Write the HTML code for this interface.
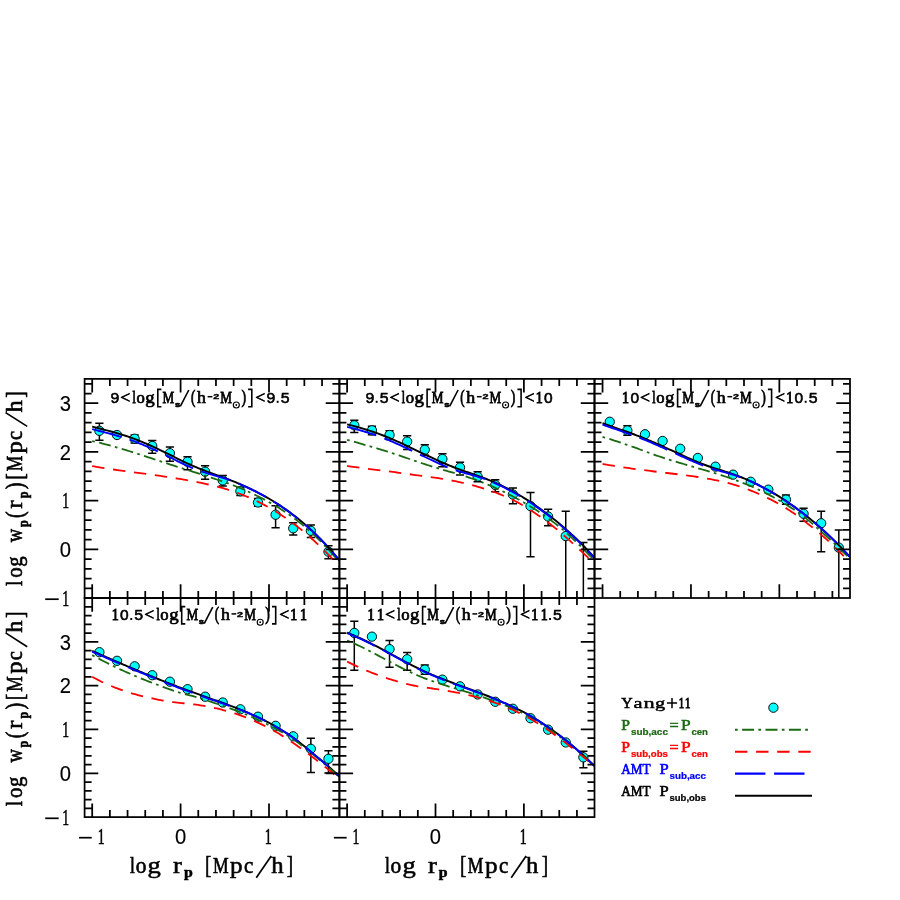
<!DOCTYPE html>
<html><head><meta charset="utf-8"><title>wp(rp) stellar mass bins</title>
<style>html,body{margin:0;padding:0;background:#fff;}body{width:900px;height:900px;overflow:hidden;font-family:"Liberation Sans",sans-serif;}svg{display:block;will-change:transform;}</style></head>
<body>
<svg width="900" height="900" viewBox="0 0 900 900">
<rect width="900" height="900" fill="#fff"/>
<clipPath id="c0"><rect x="84.6" y="378.9" width="254.8" height="219.1"/></clipPath>
<g clip-path="url(#c0)">
<path d="M99.4 423.3V440.3M95.3 423.3h8.2M95.3 440.3h8.2" stroke="#000" stroke-width="1.5" fill="none"/>
<circle cx="99.4" cy="430.8" r="4.65" fill="#00ffff" stroke="#000" stroke-width="0.95"/>
<circle cx="117.02" cy="435" r="4.65" fill="#00ffff" stroke="#000" stroke-width="0.95"/>
<path d="M134.64 435V443M130.54 435h8.2M130.54 443h8.2" stroke="#000" stroke-width="1.5" fill="none"/>
<circle cx="134.64" cy="438.7" r="4.65" fill="#00ffff" stroke="#000" stroke-width="0.95"/>
<path d="M152.26 440.5V453.3M148.16 440.5h8.2M148.16 453.3h8.2" stroke="#000" stroke-width="1.5" fill="none"/>
<circle cx="152.26" cy="446" r="4.65" fill="#00ffff" stroke="#000" stroke-width="0.95"/>
<path d="M169.88 447V461.2M165.78 447h8.2M165.78 461.2h8.2" stroke="#000" stroke-width="1.5" fill="none"/>
<circle cx="169.88" cy="453.2" r="4.65" fill="#00ffff" stroke="#000" stroke-width="0.95"/>
<path d="M187.5 456.7V469.7M183.4 456.7h8.2M183.4 469.7h8.2" stroke="#000" stroke-width="1.5" fill="none"/>
<circle cx="187.5" cy="461.7" r="4.65" fill="#00ffff" stroke="#000" stroke-width="0.95"/>
<path d="M205.12 465.8V479.3M201.02 465.8h8.2M201.02 479.3h8.2" stroke="#000" stroke-width="1.5" fill="none"/>
<circle cx="205.12" cy="471.7" r="4.65" fill="#00ffff" stroke="#000" stroke-width="0.95"/>
<path d="M222.74 475.6V486M218.64 475.6h8.2M218.64 486h8.2" stroke="#000" stroke-width="1.5" fill="none"/>
<circle cx="222.74" cy="480.4" r="4.65" fill="#00ffff" stroke="#000" stroke-width="0.95"/>
<path d="M240.36 487.3V495.5M236.26 487.3h8.2M236.26 495.5h8.2" stroke="#000" stroke-width="1.5" fill="none"/>
<circle cx="240.36" cy="491.3" r="4.65" fill="#00ffff" stroke="#000" stroke-width="0.95"/>
<path d="M257.98 498.5V506.3M253.88 498.5h8.2M253.88 506.3h8.2" stroke="#000" stroke-width="1.5" fill="none"/>
<circle cx="257.98" cy="502.5" r="4.65" fill="#00ffff" stroke="#000" stroke-width="0.95"/>
<path d="M275.6 505.8V527.8M271.5 505.8h8.2M271.5 527.8h8.2" stroke="#000" stroke-width="1.5" fill="none"/>
<circle cx="275.6" cy="514.7" r="4.65" fill="#00ffff" stroke="#000" stroke-width="0.95"/>
<path d="M293.22 522.8V535M289.12 522.8h8.2M289.12 535h8.2" stroke="#000" stroke-width="1.5" fill="none"/>
<circle cx="293.22" cy="528.3" r="4.65" fill="#00ffff" stroke="#000" stroke-width="0.95"/>
<path d="M310.84 525V537.5M306.74 525h8.2M306.74 537.5h8.2" stroke="#000" stroke-width="1.5" fill="none"/>
<circle cx="310.84" cy="530.8" r="4.65" fill="#00ffff" stroke="#000" stroke-width="0.95"/>
<path d="M328.46 545.8V558.7M324.36 545.8h8.2M324.36 558.7h8.2" stroke="#000" stroke-width="1.5" fill="none"/>
<circle cx="328.46" cy="551.7" r="4.65" fill="#00ffff" stroke="#000" stroke-width="0.95"/>
<path d="M92.2 426.59L94.28 427.14L96.35 427.68L98.43 428.21L100.51 428.75L102.59 429.29L104.66 429.82L106.74 430.37L108.82 430.92L110.9 431.48L112.97 432.04L115.05 432.62L117.13 433.22L119.21 433.83L121.28 434.45L123.36 435.1L125.44 435.76L127.51 436.45L129.59 437.16L131.67 437.89L133.75 438.65L135.82 439.43L137.9 440.24L139.98 441.06L142.06 441.91L144.13 442.78L146.21 443.67L148.29 444.57L150.36 445.5L152.44 446.44L154.52 447.4L156.6 448.37L158.67 449.35L160.75 450.34L162.83 451.35L164.91 452.36L166.98 453.39L169.06 454.41L171.14 455.44L173.22 456.47L175.29 457.5L177.37 458.53L179.45 459.55L181.52 460.56L183.6 461.55L185.68 462.54L187.76 463.51L189.83 464.46L191.91 465.39L193.99 466.3L196.07 467.19L198.14 468.06L200.22 468.9L202.3 469.72L204.37 470.53L206.45 471.32L208.53 472.1L210.61 472.87L212.68 473.63L214.76 474.39L216.84 475.14L218.92 475.89L220.99 476.64L223.07 477.4L225.15 478.17L227.23 478.95L229.3 479.74L231.38 480.54L233.46 481.37L235.53 482.21L237.61 483.07L239.69 483.95L241.77 484.85L243.84 485.77L245.92 486.71L248 487.67L250.08 488.65L252.15 489.65L254.23 490.67L256.31 491.71L258.38 492.78L260.46 493.87L262.54 494.99L264.62 496.13L266.69 497.3L268.77 498.5L270.85 499.73L272.93 500.99L275 502.28L277.08 503.59L279.16 504.94L281.24 506.31L283.31 507.72L285.39 509.17L287.47 510.64L289.54 512.15L291.62 513.69L293.7 515.27L295.78 516.88L297.85 518.53L299.93 520.21L302.01 521.93L304.09 523.68L306.16 525.48L308.24 527.31L310.32 529.19L312.39 531.1L314.47 533.06L316.55 535.06L318.63 537.11L320.7 539.21L322.78 541.35L324.86 543.55L326.94 545.79L329.01 548.09L331.09 550.44L333.17 552.83L335.25 555.28L337.32 557.78L339.4 560.33" stroke="#000" stroke-width="1.95" fill="none"/>
<path d="M92.2 441.08L94.28 441.51L96.35 441.98L98.43 442.47L100.51 442.99L102.59 443.52L104.66 444.07L106.74 444.64L108.82 445.21L110.9 445.78L112.97 446.36L115.05 446.94L117.13 447.53L119.21 448.13L121.28 448.73L123.36 449.34L125.44 449.97L127.51 450.6L129.59 451.24L131.67 451.89L133.75 452.54L135.82 453.21L137.9 453.88L139.98 454.55L142.06 455.23L144.13 455.91L146.21 456.59L148.29 457.28L150.36 457.97L152.44 458.66L154.52 459.35L156.6 460.04L158.67 460.72L160.75 461.41L162.83 462.09L164.91 462.77L166.98 463.44L169.06 464.11L171.14 464.78L173.22 465.44L175.29 466.11L177.37 466.77L179.45 467.43L181.52 468.09L183.6 468.74L185.68 469.4L187.76 470.06L189.83 470.72L191.91 471.38L193.99 472.04L196.07 472.7L198.14 473.37L200.22 474.03L202.3 474.7L204.37 475.38L206.45 476.06L208.53 476.74L210.61 477.42L212.68 478.11L214.76 478.81L216.84 479.51L218.92 480.22L220.99 480.94L223.07 481.66L225.15 482.4L227.23 483.14L229.3 483.9L231.38 484.67L233.46 485.45L235.53 486.26L237.61 487.08L239.69 487.92L241.77 488.79L243.84 489.68L245.92 490.6L248 491.54L250.08 492.5L252.15 493.48L254.23 494.48L256.31 495.5L258.38 496.53L260.46 497.58L262.54 498.65L264.62 499.74L266.69 500.85L268.77 501.99L270.85 503.15L272.93 504.33L275 505.55L277.08 506.8L279.16 508.08L281.24 509.39L283.31 510.73L285.39 512.11L287.47 513.52L289.54 514.97L291.62 516.45L293.7 517.97L295.78 519.53L297.85 521.12L299.93 522.76L302.01 524.42L304.09 526.13L306.16 527.87L308.24 529.66L310.32 531.49L312.39 533.37L314.47 535.29L316.55 537.25L318.63 539.27L320.7 541.33L322.78 543.45L324.86 545.61L326.94 547.83L329.01 550.09L331.09 552.42L333.17 554.79L335.25 557.23L337.32 559.72L339.4 562.27" stroke="#1a6a12" stroke-width="1.8" fill="none" stroke-dasharray="2.7 4.4 12 4.3"/>
<path d="M92.2 466.12L94.28 466.48L96.35 466.84L98.43 467.19L100.51 467.53L102.59 467.87L104.66 468.2L106.74 468.52L108.82 468.83L110.9 469.14L112.97 469.45L115.05 469.75L117.13 470.05L119.21 470.34L121.28 470.63L123.36 470.91L125.44 471.2L127.51 471.48L129.59 471.75L131.67 472.03L133.75 472.31L135.82 472.58L137.9 472.86L139.98 473.13L142.06 473.41L144.13 473.68L146.21 473.96L148.29 474.24L150.36 474.52L152.44 474.8L154.52 475.09L156.6 475.38L158.67 475.67L160.75 475.97L162.83 476.27L164.91 476.58L166.98 476.89L169.06 477.21L171.14 477.53L173.22 477.86L175.29 478.19L177.37 478.53L179.45 478.87L181.52 479.22L183.6 479.58L185.68 479.94L187.76 480.31L189.83 480.68L191.91 481.07L193.99 481.46L196.07 481.87L198.14 482.28L200.22 482.7L202.3 483.14L204.37 483.58L206.45 484.03L208.53 484.5L210.61 484.98L212.68 485.47L214.76 485.98L216.84 486.51L218.92 487.06L220.99 487.63L223.07 488.21L225.15 488.83L227.23 489.46L229.3 490.12L231.38 490.79L233.46 491.49L235.53 492.21L237.61 492.96L239.69 493.73L241.77 494.53L243.84 495.35L245.92 496.21L248 497.09L250.08 498L252.15 498.93L254.23 499.9L256.31 500.89L258.38 501.91L260.46 502.95L262.54 504.03L264.62 505.13L266.69 506.26L268.77 507.42L270.85 508.6L272.93 509.82L275 511.07L277.08 512.35L279.16 513.66L281.24 515L283.31 516.38L285.39 517.79L287.47 519.23L289.54 520.71L291.62 522.22L293.7 523.76L295.78 525.34L297.85 526.96L299.93 528.61L302.01 530.3L304.09 532.02L306.16 533.78L308.24 535.58L310.32 537.4L312.39 539.26L314.47 541.14L316.55 543.06L318.63 545.01L320.7 547L322.78 549.02L324.86 551.07L326.94 553.17L329.01 555.3L331.09 557.47L333.17 559.68L335.25 561.94L337.32 564.24L339.4 566.6" stroke="#ff0000" stroke-width="1.8" fill="none" stroke-dasharray="12.4 8.7"/>
<path d="M92.2 429.09L94.28 429.64L96.35 430.18L98.43 430.71L100.51 431.25L102.59 431.79L104.66 432.32L106.74 432.87L108.82 433.42L110.9 433.98L112.97 434.54L115.05 435.12L117.13 435.72L119.21 436.33L121.28 436.95L123.36 437.6L125.44 438.26L127.51 438.95L129.59 439.66L131.67 440.39L133.75 441.15L135.82 441.93L137.9 442.74L139.98 443.56L142.06 444.41L144.13 445.28L146.21 446.17L148.29 447.07L150.36 448L152.44 448.94L154.52 449.9L156.6 450.87L158.67 451.85L160.75 452.84L162.83 453.85L164.91 454.86L166.98 455.89L169.06 456.91L171.14 457.94L173.22 458.97L175.29 460L177.37 461.03L179.45 462.05L181.52 463.06L183.6 464.05L185.68 465.04L187.76 466.01L189.83 466.96L191.91 467.89L193.99 468.8L196.07 469.69L198.14 470.45L200.22 471.13L202.3 471.8L204.37 472.45L206.45 473.09L208.53 473.71L210.61 474.33L212.68 474.93L214.76 475.53L216.84 476.13L218.92 476.72L220.99 477.32L223.07 477.92L225.15 478.53L227.23 479.15L229.3 479.94L231.38 480.74L233.46 481.57L235.53 482.41L237.61 483.27L239.69 484.15L241.77 485.05L243.84 485.97L245.92 486.91L248 487.87L250.08 488.85L252.15 489.85L254.23 490.87L256.31 491.91L258.38 492.98L260.46 494.07L262.54 495.19L264.62 496.33L266.69 497.5L268.77 498.7L270.85 499.93L272.93 501.19L275 502.48L277.08 503.79L279.16 505.14L281.24 506.51L283.31 507.92L285.39 509.37L287.47 510.84L289.54 512.35L291.62 513.89L293.7 515.47L295.78 517.08L297.85 518.73L299.93 520.41L302.01 522.13L304.09 523.88L306.16 525.68L308.24 527.51L310.32 529.39L312.39 531.3L314.47 533.26L316.55 535.26L318.63 537.31L320.7 539.41L322.78 541.55L324.86 543.75L326.94 545.99L329.01 548.29L331.09 550.64L333.17 553.03L335.25 555.48L337.32 557.98L339.4 560.53" stroke="#0000ff" stroke-width="1.9" fill="none" stroke-dasharray="30.4 8.7"/>
</g>
<clipPath id="c1"><rect x="339.4" y="378.9" width="255.1" height="219.1"/></clipPath>
<g clip-path="url(#c1)">
<path d="M354.3 420.3V432.5M350.2 420.3h8.2M350.2 432.5h8.2" stroke="#000" stroke-width="1.5" fill="none"/>
<circle cx="354.3" cy="425.3" r="4.65" fill="#00ffff" stroke="#000" stroke-width="0.95"/>
<path d="M371.92 426.3V434.7M367.82 426.3h8.2M367.82 434.7h8.2" stroke="#000" stroke-width="1.5" fill="none"/>
<circle cx="371.92" cy="430.3" r="4.65" fill="#00ffff" stroke="#000" stroke-width="0.95"/>
<path d="M389.54 430.8V439.5M385.44 430.8h8.2M385.44 439.5h8.2" stroke="#000" stroke-width="1.5" fill="none"/>
<circle cx="389.54" cy="435" r="4.65" fill="#00ffff" stroke="#000" stroke-width="0.95"/>
<path d="M407.16 435.8V449.5M403.06 435.8h8.2M403.06 449.5h8.2" stroke="#000" stroke-width="1.5" fill="none"/>
<circle cx="407.16" cy="441.6" r="4.65" fill="#00ffff" stroke="#000" stroke-width="0.95"/>
<path d="M424.78 444.7V455.3M420.68 444.7h8.2M420.68 455.3h8.2" stroke="#000" stroke-width="1.5" fill="none"/>
<circle cx="424.78" cy="449.8" r="4.65" fill="#00ffff" stroke="#000" stroke-width="0.95"/>
<path d="M442.4 453.7V466.7M438.3 453.7h8.2M438.3 466.7h8.2" stroke="#000" stroke-width="1.5" fill="none"/>
<circle cx="442.4" cy="459" r="4.65" fill="#00ffff" stroke="#000" stroke-width="0.95"/>
<path d="M460.02 462.2V475M455.92 462.2h8.2M455.92 475h8.2" stroke="#000" stroke-width="1.5" fill="none"/>
<circle cx="460.02" cy="467.5" r="4.65" fill="#00ffff" stroke="#000" stroke-width="0.95"/>
<path d="M477.64 471.7V481.7M473.54 471.7h8.2M473.54 481.7h8.2" stroke="#000" stroke-width="1.5" fill="none"/>
<circle cx="477.64" cy="476.6" r="4.65" fill="#00ffff" stroke="#000" stroke-width="0.95"/>
<path d="M495.26 479.7V491.7M491.16 479.7h8.2M491.16 491.7h8.2" stroke="#000" stroke-width="1.5" fill="none"/>
<circle cx="495.26" cy="485" r="4.65" fill="#00ffff" stroke="#000" stroke-width="0.95"/>
<path d="M512.88 488V503.7M508.78 488h8.2M508.78 503.7h8.2" stroke="#000" stroke-width="1.5" fill="none"/>
<circle cx="512.88" cy="494.5" r="4.65" fill="#00ffff" stroke="#000" stroke-width="0.95"/>
<path d="M530.5 492.5V556.7M526.4 492.5h8.2M526.4 556.7h8.2" stroke="#000" stroke-width="1.5" fill="none"/>
<circle cx="530.5" cy="506.1" r="4.65" fill="#00ffff" stroke="#000" stroke-width="0.95"/>
<path d="M548.12 509.2V525.8M544.02 509.2h8.2M544.02 525.8h8.2" stroke="#000" stroke-width="1.5" fill="none"/>
<circle cx="548.12" cy="516.5" r="4.65" fill="#00ffff" stroke="#000" stroke-width="0.95"/>
<path d="M565.74 511.3V598M561.64 511.3h8.2" stroke="#000" stroke-width="1.5" fill="none"/>
<circle cx="565.74" cy="536.1" r="4.65" fill="#00ffff" stroke="#000" stroke-width="0.95"/>
<path d="M583.36 542.5V598M579.26 542.5h8.2" stroke="#000" stroke-width="1.5" fill="none"/>
<path d="M347.1 424.32L349.18 424.85L351.26 425.38L353.34 425.93L355.42 426.49L357.49 427.06L359.57 427.65L361.65 428.25L363.73 428.87L365.81 429.51L367.89 430.16L369.97 430.83L372.05 431.51L374.13 432.22L376.21 432.94L378.28 433.68L380.36 434.44L382.44 435.22L384.52 436.03L386.6 436.85L388.68 437.7L390.76 438.57L392.84 439.46L394.92 440.37L397 441.29L399.07 442.23L401.15 443.18L403.23 444.14L405.31 445.11L407.39 446.08L409.47 447.06L411.55 448.05L413.63 449.04L415.71 450.03L417.79 451.03L419.86 452.02L421.94 453.02L424.02 454.01L426.1 455.01L428.18 456L430.26 456.99L432.34 457.97L434.42 458.95L436.5 459.91L438.58 460.86L440.65 461.8L442.73 462.72L444.81 463.62L446.89 464.51L448.97 465.37L451.05 466.21L453.13 467.02L455.21 467.82L457.29 468.59L459.37 469.35L461.44 470.1L463.52 470.84L465.6 471.57L467.68 472.29L469.76 473.01L471.84 473.73L473.92 474.46L476 475.19L478.08 475.92L480.16 476.67L482.23 477.42L484.31 478.2L486.39 478.99L488.47 479.81L490.55 480.65L492.63 481.52L494.71 482.41L496.79 483.33L498.87 484.28L500.95 485.25L503.02 486.26L505.1 487.29L507.18 488.35L509.26 489.44L511.34 490.55L513.42 491.69L515.5 492.87L517.58 494.06L519.66 495.29L521.74 496.53L523.81 497.81L525.89 499.11L527.97 500.44L530.05 501.79L532.13 503.17L534.21 504.58L536.29 506.01L538.37 507.47L540.45 508.96L542.53 510.47L544.6 512.01L546.68 513.58L548.76 515.17L550.84 516.78L552.92 518.42L555 520.08L557.08 521.77L559.16 523.48L561.24 525.22L563.32 527L565.39 528.79L567.47 530.62L569.55 532.48L571.63 534.37L573.71 536.3L575.79 538.25L577.87 540.25L579.95 542.29L582.03 544.37L584.11 546.49L586.18 548.66L588.26 550.87L590.34 553.11L592.42 555.38L594.5 557.67" stroke="#000" stroke-width="1.95" fill="none"/>
<path d="M347.1 439.77L349.18 440.35L351.26 440.94L353.34 441.53L355.42 442.13L357.49 442.72L359.57 443.32L361.65 443.93L363.73 444.53L365.81 445.14L367.89 445.74L369.97 446.35L372.05 446.96L374.13 447.57L376.21 448.18L378.28 448.79L380.36 449.41L382.44 450.03L384.52 450.66L386.6 451.3L388.68 451.95L390.76 452.61L392.84 453.28L394.92 453.97L397 454.67L399.07 455.38L401.15 456.1L403.23 456.82L405.31 457.54L407.39 458.26L409.47 458.98L411.55 459.7L413.63 460.42L415.71 461.13L417.79 461.84L419.86 462.54L421.94 463.24L424.02 463.92L426.1 464.59L428.18 465.26L430.26 465.91L432.34 466.56L434.42 467.2L436.5 467.84L438.58 468.47L440.65 469.1L442.73 469.73L444.81 470.34L446.89 470.95L448.97 471.56L451.05 472.15L453.13 472.74L455.21 473.34L457.29 473.94L459.37 474.54L461.44 475.16L463.52 475.79L465.6 476.44L467.68 477.1L469.76 477.78L471.84 478.48L473.92 479.2L476 479.95L478.08 480.72L480.16 481.51L482.23 482.33L484.31 483.16L486.39 484.02L488.47 484.89L490.55 485.78L492.63 486.69L494.71 487.62L496.79 488.57L498.87 489.53L500.95 490.51L503.02 491.5L505.1 492.51L507.18 493.53L509.26 494.57L511.34 495.63L513.42 496.71L515.5 497.81L517.58 498.92L519.66 500.07L521.74 501.23L523.81 502.42L525.89 503.64L527.97 504.88L530.05 506.15L532.13 507.45L534.21 508.77L536.29 510.11L538.37 511.48L540.45 512.88L542.53 514.3L544.6 515.75L546.68 517.22L548.76 518.72L550.84 520.24L552.92 521.78L555 523.36L557.08 524.98L559.16 526.63L561.24 528.33L563.32 530.08L565.39 531.88L567.47 533.72L569.55 535.62L571.63 537.55L573.71 539.51L575.79 541.51L577.87 543.54L579.95 545.59L582.03 547.66L584.11 549.76L586.18 551.87L588.26 554L590.34 556.13L592.42 558.27L594.5 560.43" stroke="#1a6a12" stroke-width="1.8" fill="none" stroke-dasharray="2.7 4.4 12 4.3"/>
<path d="M347.1 465.97L349.18 466.3L351.26 466.61L353.34 466.91L355.42 467.19L357.49 467.47L359.57 467.74L361.65 468L363.73 468.26L365.81 468.51L367.89 468.77L369.97 469.02L372.05 469.27L374.13 469.53L376.21 469.79L378.28 470.06L380.36 470.33L382.44 470.6L384.52 470.86L386.6 471.13L388.68 471.4L390.76 471.67L392.84 471.95L394.92 472.22L397 472.5L399.07 472.78L401.15 473.06L403.23 473.35L405.31 473.64L407.39 473.92L409.47 474.21L411.55 474.49L413.63 474.77L415.71 475.05L417.79 475.33L419.86 475.6L421.94 475.87L424.02 476.15L426.1 476.42L428.18 476.7L430.26 476.99L432.34 477.28L434.42 477.58L436.5 477.89L438.58 478.21L440.65 478.54L442.73 478.88L444.81 479.24L446.89 479.61L448.97 479.99L451.05 480.39L453.13 480.79L455.21 481.21L457.29 481.64L459.37 482.08L461.44 482.53L463.52 482.99L465.6 483.47L467.68 483.98L469.76 484.5L471.84 485.05L473.92 485.62L476 486.2L478.08 486.8L480.16 487.42L482.23 488.04L484.31 488.69L486.39 489.35L488.47 490.03L490.55 490.74L492.63 491.47L494.71 492.23L496.79 493.01L498.87 493.81L500.95 494.64L503.02 495.5L505.1 496.38L507.18 497.29L509.26 498.23L511.34 499.21L513.42 500.23L515.5 501.29L517.58 502.4L519.66 503.55L521.74 504.74L523.81 505.98L525.89 507.24L527.97 508.53L530.05 509.85L532.13 511.2L534.21 512.57L536.29 513.97L538.37 515.4L540.45 516.85L542.53 518.33L544.6 519.83L546.68 521.36L548.76 522.93L550.84 524.53L552.92 526.18L555 527.86L557.08 529.57L559.16 531.32L561.24 533.1L563.32 534.91L565.39 536.74L567.47 538.58L569.55 540.45L571.63 542.34L573.71 544.25L575.79 546.16L577.87 548.09L579.95 550.02L582.03 551.95L584.11 553.88L586.18 555.79L588.26 557.7L590.34 559.59L592.42 561.47L594.5 563.34" stroke="#ff0000" stroke-width="1.8" fill="none" stroke-dasharray="12.4 8.7"/>
<path d="M347.1 426.82L349.18 427.35L351.26 427.88L353.34 428.43L355.42 428.99L357.49 429.56L359.57 430.15L361.65 430.75L363.73 431.37L365.81 432.01L367.89 432.66L369.97 433.33L372.05 434.01L374.13 434.72L376.21 435.44L378.28 436.18L380.36 436.94L382.44 437.72L384.52 438.53L386.6 439.35L388.68 440.2L390.76 441.07L392.84 441.96L394.92 442.87L397 443.79L399.07 444.73L401.15 445.68L403.23 446.64L405.31 447.61L407.39 448.58L409.47 449.56L411.55 450.55L413.63 451.54L415.71 452.53L417.79 453.53L419.86 454.52L421.94 455.52L424.02 456.51L426.1 457.51L428.18 458.5L430.26 459.49L432.34 460.47L434.42 461.45L436.5 462.41L438.58 463.36L440.65 464.3L442.73 465.22L444.81 466.12L446.89 467.01L448.97 467.87L451.05 468.71L453.13 469.52L455.21 470.24L457.29 470.86L459.37 471.47L461.44 472.06L463.52 472.65L465.6 473.23L467.68 473.81L469.76 474.4L471.84 474.99L473.92 475.6L476 476.21L478.08 476.83L480.16 477.47L482.23 478.12L484.31 478.78L486.39 479.58L488.47 480.43L490.55 481.3L492.63 482.18L494.71 483.09L496.79 484.01L498.87 484.96L500.95 485.94L503.02 486.94L505.1 487.97L507.18 489.03L509.26 490.12L511.34 491.23L513.42 492.37L515.5 493.54L517.58 494.74L519.66 495.96L521.74 497.2L523.81 498.48L525.89 499.78L527.97 501.1L530.05 502.45L532.13 503.83L534.21 505.23L536.29 506.66L538.37 508.12L540.45 509.61L542.53 511.12L544.6 512.66L546.68 514.22L548.76 515.81L550.84 517.42L552.92 519.06L555 520.72L557.08 522.4L559.16 524.12L561.24 525.86L563.32 527.62L565.39 529.42L567.47 531.25L569.55 533.11L571.63 534.99L573.71 536.92L575.79 538.87L577.87 540.87L579.95 542.9L582.03 544.98L584.11 547.1L586.18 549.27L588.26 551.48L590.34 553.72L592.42 555.98L594.5 558.28" stroke="#0000ff" stroke-width="1.9" fill="none" stroke-dasharray="30.4 8.7"/>
</g>
<clipPath id="c2"><rect x="594.5" y="378.9" width="255.5" height="219.1"/></clipPath>
<g clip-path="url(#c2)">
<circle cx="609.75" cy="421.75" r="4.65" fill="#00ffff" stroke="#000" stroke-width="0.95"/>
<path d="M627.37 425.8V435.3M623.27 425.8h8.2M623.27 435.3h8.2" stroke="#000" stroke-width="1.5" fill="none"/>
<circle cx="627.37" cy="430.45" r="4.65" fill="#00ffff" stroke="#000" stroke-width="0.95"/>
<circle cx="644.99" cy="434.25" r="4.65" fill="#00ffff" stroke="#000" stroke-width="0.95"/>
<circle cx="662.61" cy="440.95" r="4.65" fill="#00ffff" stroke="#000" stroke-width="0.95"/>
<circle cx="680.23" cy="448.75" r="4.65" fill="#00ffff" stroke="#000" stroke-width="0.95"/>
<circle cx="697.85" cy="457.95" r="4.65" fill="#00ffff" stroke="#000" stroke-width="0.95"/>
<circle cx="715.47" cy="466.65" r="4.65" fill="#00ffff" stroke="#000" stroke-width="0.95"/>
<circle cx="733.09" cy="474.65" r="4.65" fill="#00ffff" stroke="#000" stroke-width="0.95"/>
<circle cx="750.71" cy="481.75" r="4.65" fill="#00ffff" stroke="#000" stroke-width="0.95"/>
<circle cx="768.33" cy="489.65" r="4.65" fill="#00ffff" stroke="#000" stroke-width="0.95"/>
<path d="M785.95 495V504.2M781.85 495h8.2M781.85 504.2h8.2" stroke="#000" stroke-width="1.5" fill="none"/>
<circle cx="785.95" cy="499.65" r="4.65" fill="#00ffff" stroke="#000" stroke-width="0.95"/>
<path d="M803.57 508.3V521.2M799.47 508.3h8.2M799.47 521.2h8.2" stroke="#000" stroke-width="1.5" fill="none"/>
<circle cx="803.57" cy="513.75" r="4.65" fill="#00ffff" stroke="#000" stroke-width="0.95"/>
<path d="M821.19 511.3V551.7M817.09 511.3h8.2M817.09 551.7h8.2" stroke="#000" stroke-width="1.5" fill="none"/>
<circle cx="821.19" cy="523.25" r="4.65" fill="#00ffff" stroke="#000" stroke-width="0.95"/>
<path d="M838.81 530V598M834.71 530h8.2" stroke="#000" stroke-width="1.5" fill="none"/>
<circle cx="838.81" cy="547.65" r="4.65" fill="#00ffff" stroke="#000" stroke-width="0.95"/>
<path d="M602.55 423.22L604.63 423.99L606.71 424.75L608.79 425.49L610.87 426.22L612.95 426.95L615.03 427.67L617.11 428.39L619.19 429.1L621.26 429.82L623.34 430.54L625.42 431.27L627.5 432L629.58 432.74L631.66 433.5L633.74 434.26L635.82 435.04L637.9 435.84L639.98 436.64L642.06 437.47L644.14 438.31L646.22 439.16L648.3 440.03L650.38 440.91L652.46 441.81L654.54 442.72L656.61 443.63L658.69 444.56L660.77 445.49L662.85 446.43L664.93 447.38L667.01 448.32L669.09 449.27L671.17 450.22L673.25 451.16L675.33 452.11L677.41 453.06L679.49 454.01L681.57 454.97L683.65 455.92L685.73 456.87L687.81 457.81L689.89 458.74L691.96 459.66L694.04 460.57L696.12 461.45L698.2 462.32L700.28 463.16L702.36 463.98L704.44 464.78L706.52 465.54L708.6 466.28L710.68 466.99L712.76 467.67L714.84 468.34L716.92 469L719 469.65L721.08 470.3L723.16 470.95L725.24 471.61L727.31 472.29L729.39 472.97L731.47 473.68L733.55 474.4L735.63 475.14L737.71 475.9L739.79 476.69L741.87 477.51L743.95 478.35L746.03 479.22L748.11 480.12L750.19 481.04L752.27 482L754.35 482.97L756.43 483.98L758.51 485L760.59 486.06L762.66 487.13L764.74 488.24L766.82 489.36L768.9 490.52L770.98 491.69L773.06 492.9L775.14 494.13L777.22 495.39L779.3 496.67L781.38 497.98L783.46 499.32L785.54 500.68L787.62 502.07L789.7 503.49L791.78 504.94L793.86 506.41L795.94 507.91L798.01 509.44L800.09 510.99L802.17 512.57L804.25 514.18L806.33 515.82L808.41 517.48L810.49 519.16L812.57 520.88L814.65 522.62L816.73 524.39L818.81 526.19L820.89 528.02L822.97 529.88L825.05 531.78L827.13 533.71L829.21 535.68L831.29 537.68L833.36 539.72L835.44 541.78L837.52 543.88L839.6 546L841.68 548.14L843.76 550.31L845.84 552.5L847.92 554.71L850 556.93" stroke="#000" stroke-width="1.95" fill="none"/>
<path d="M602.55 436.9L604.63 437.52L606.71 438.15L608.79 438.79L610.87 439.45L612.95 440.11L615.03 440.78L617.11 441.47L619.19 442.16L621.26 442.86L623.34 443.57L625.42 444.29L627.5 445.01L629.58 445.74L631.66 446.48L633.74 447.22L635.82 447.97L637.9 448.72L639.98 449.48L642.06 450.24L644.14 451L646.22 451.76L648.3 452.53L650.38 453.29L652.46 454.04L654.54 454.79L656.61 455.53L658.69 456.26L660.77 456.97L662.85 457.67L664.93 458.35L667.01 459.02L669.09 459.67L671.17 460.31L673.25 460.94L675.33 461.56L677.41 462.17L679.49 462.78L681.57 463.39L683.65 464L685.73 464.62L687.81 465.23L689.89 465.84L691.96 466.45L694.04 467.06L696.12 467.67L698.2 468.28L700.28 468.89L702.36 469.5L704.44 470.11L706.52 470.73L708.6 471.35L710.68 471.98L712.76 472.6L714.84 473.23L716.92 473.87L719 474.51L721.08 475.16L723.16 475.82L725.24 476.5L727.31 477.19L729.39 477.91L731.47 478.64L733.55 479.38L735.63 480.14L737.71 480.92L739.79 481.7L741.87 482.5L743.95 483.32L746.03 484.15L748.11 485L750.19 485.87L752.27 486.76L754.35 487.68L756.43 488.62L758.51 489.59L760.59 490.59L762.66 491.61L764.74 492.66L766.82 493.72L768.9 494.81L770.98 495.91L773.06 497.04L775.14 498.19L777.22 499.36L779.3 500.55L781.38 501.77L783.46 503.02L785.54 504.28L787.62 505.57L789.7 506.87L791.78 508.19L793.86 509.54L795.94 510.93L798.01 512.36L800.09 513.85L802.17 515.4L804.25 517L806.33 518.66L808.41 520.37L810.49 522.13L812.57 523.92L814.65 525.74L816.73 527.57L818.81 529.42L820.89 531.28L822.97 533.14L825.05 535.01L827.13 536.88L829.21 538.77L831.29 540.67L833.36 542.59L835.44 544.53L837.52 546.49L839.6 548.48L841.68 550.5L843.76 552.54L845.84 554.61L847.92 556.7L850 558.82" stroke="#1a6a12" stroke-width="1.8" fill="none" stroke-dasharray="2.7 4.4 12 4.3"/>
<path d="M602.55 463.92L604.63 464.3L606.71 464.66L608.79 465.02L610.87 465.36L612.95 465.71L615.03 466.04L617.11 466.37L619.19 466.7L621.26 467.01L623.34 467.33L625.42 467.63L627.5 467.93L629.58 468.23L631.66 468.52L633.74 468.81L635.82 469.1L637.9 469.38L639.98 469.65L642.06 469.92L644.14 470.19L646.22 470.46L648.3 470.72L650.38 470.98L652.46 471.24L654.54 471.5L656.61 471.76L658.69 472.01L660.77 472.26L662.85 472.51L664.93 472.76L667.01 473.01L669.09 473.26L671.17 473.51L673.25 473.76L675.33 474.01L677.41 474.26L679.49 474.52L681.57 474.77L683.65 475.04L685.73 475.3L687.81 475.57L689.89 475.85L691.96 476.14L694.04 476.43L696.12 476.74L698.2 477.05L700.28 477.38L702.36 477.72L704.44 478.07L706.52 478.44L708.6 478.81L710.68 479.2L712.76 479.6L714.84 480.01L716.92 480.44L719 480.88L721.08 481.34L723.16 481.81L725.24 482.32L727.31 482.85L729.39 483.4L731.47 483.98L733.55 484.59L735.63 485.22L737.71 485.87L739.79 486.56L741.87 487.26L743.95 487.99L746.03 488.75L748.11 489.53L750.19 490.33L752.27 491.16L754.35 492.01L756.43 492.88L758.51 493.78L760.59 494.7L762.66 495.64L764.74 496.61L766.82 497.6L768.9 498.62L770.98 499.67L773.06 500.74L775.14 501.85L777.22 502.99L779.3 504.15L781.38 505.35L783.46 506.57L785.54 507.84L787.62 509.14L789.7 510.49L791.78 511.89L793.86 513.34L795.94 514.82L798.01 516.34L800.09 517.89L802.17 519.46L804.25 521.04L806.33 522.64L808.41 524.26L810.49 525.89L812.57 527.53L814.65 529.2L816.73 530.89L818.81 532.61L820.89 534.37L822.97 536.18L825.05 538.03L827.13 539.92L829.21 541.86L831.29 543.83L833.36 545.84L835.44 547.86L837.52 549.9L839.6 551.95L841.68 554L843.76 556.06L845.84 558.13L847.92 560.2L850 562.27" stroke="#ff0000" stroke-width="1.8" fill="none" stroke-dasharray="12.4 8.7"/>
<path d="M602.55 424.52L604.63 425.29L606.71 426.05L608.79 426.79L610.87 427.52L612.95 428.25L615.03 428.97L617.11 429.69L619.19 430.4L621.26 431.12L623.34 431.84L625.42 432.57L627.5 433.3L629.58 434.04L631.66 434.8L633.74 435.56L635.82 436.34L637.9 437.14L639.98 437.94L642.06 438.77L644.14 439.61L646.22 440.46L648.3 441.33L650.38 442.21L652.46 443.11L654.54 444.02L656.61 444.93L658.69 445.86L660.77 446.79L662.85 447.73L664.93 448.68L667.01 449.62L669.09 450.57L671.17 451.52L673.25 452.46L675.33 453.41L677.41 454.36L679.49 455.31L681.57 456.27L683.65 457.22L685.73 458.17L687.81 459.11L689.89 460.04L691.96 460.96L694.04 461.87L696.12 462.75L698.2 463.62L700.28 464.46L702.36 465.28L704.44 466.08L706.52 466.84L708.6 467.58L710.68 468.29L712.76 468.95L714.84 469.54L716.92 470.13L719 470.7L721.08 471.28L723.16 471.86L725.24 472.44L727.31 473.04L729.39 473.65L731.47 474.28L733.55 474.93L735.63 475.59L737.71 476.28L739.79 477L741.87 477.74L743.95 478.55L746.03 479.42L748.11 480.32L750.19 481.24L752.27 482.2L754.35 483.17L756.43 484.18L758.51 485.2L760.59 486.26L762.66 487.33L764.74 488.44L766.82 489.56L768.9 490.72L770.98 491.89L773.06 493.1L775.14 494.33L777.22 495.59L779.3 496.87L781.38 498.18L783.46 499.52L785.54 500.88L787.62 502.27L789.7 503.69L791.78 505.14L793.86 506.61L795.94 508.11L798.01 509.64L800.09 511.19L802.17 512.77L804.25 514.38L806.33 516.02L808.41 517.68L810.49 519.36L812.57 521.08L814.65 522.82L816.73 524.59L818.81 526.39L820.89 528.22L822.97 530.08L825.05 531.98L827.13 533.91L829.21 535.88L831.29 537.88L833.36 539.92L835.44 541.98L837.52 544.08L839.6 546.2L841.68 548.34L843.76 550.51L845.84 552.7L847.92 554.91L850 557.13" stroke="#0000ff" stroke-width="1.9" fill="none" stroke-dasharray="30.4 8.7"/>
</g>
<clipPath id="c3"><rect x="84.6" y="598" width="254.8" height="219.1"/></clipPath>
<g clip-path="url(#c3)">
<circle cx="99.4" cy="652.2" r="4.65" fill="#00ffff" stroke="#000" stroke-width="0.95"/>
<circle cx="117.02" cy="660.8" r="4.65" fill="#00ffff" stroke="#000" stroke-width="0.95"/>
<circle cx="134.64" cy="666.3" r="4.65" fill="#00ffff" stroke="#000" stroke-width="0.95"/>
<circle cx="152.26" cy="675.2" r="4.65" fill="#00ffff" stroke="#000" stroke-width="0.95"/>
<circle cx="169.88" cy="681.7" r="4.65" fill="#00ffff" stroke="#000" stroke-width="0.95"/>
<circle cx="187.5" cy="689.2" r="4.65" fill="#00ffff" stroke="#000" stroke-width="0.95"/>
<circle cx="205.12" cy="696.7" r="4.65" fill="#00ffff" stroke="#000" stroke-width="0.95"/>
<circle cx="222.74" cy="702.5" r="4.65" fill="#00ffff" stroke="#000" stroke-width="0.95"/>
<circle cx="240.36" cy="709.3" r="4.65" fill="#00ffff" stroke="#000" stroke-width="0.95"/>
<circle cx="257.98" cy="716.7" r="4.65" fill="#00ffff" stroke="#000" stroke-width="0.95"/>
<circle cx="275.6" cy="725.8" r="4.65" fill="#00ffff" stroke="#000" stroke-width="0.95"/>
<circle cx="293.22" cy="736.3" r="4.65" fill="#00ffff" stroke="#000" stroke-width="0.95"/>
<path d="M310.84 738.3V772.5M306.74 738.3h8.2M306.74 772.5h8.2" stroke="#000" stroke-width="1.5" fill="none"/>
<circle cx="310.84" cy="748.8" r="4.65" fill="#00ffff" stroke="#000" stroke-width="0.95"/>
<path d="M328.46 750.8V773M324.36 750.8h8.2M324.36 773h8.2" stroke="#000" stroke-width="1.5" fill="none"/>
<circle cx="328.46" cy="758.8" r="4.65" fill="#00ffff" stroke="#000" stroke-width="0.95"/>
<path d="M92.2 650.88L94.28 651.82L96.35 652.75L98.43 653.67L100.51 654.6L102.59 655.52L104.66 656.44L106.74 657.35L108.82 658.26L110.9 659.17L112.97 660.08L115.05 660.98L117.13 661.88L119.21 662.77L121.28 663.67L123.36 664.56L125.44 665.44L127.51 666.33L129.59 667.21L131.67 668.09L133.75 668.96L135.82 669.83L137.9 670.7L139.98 671.57L142.06 672.43L144.13 673.29L146.21 674.15L148.29 675L150.36 675.86L152.44 676.71L154.52 677.55L156.6 678.4L158.67 679.24L160.75 680.08L162.83 680.91L164.91 681.74L166.98 682.56L169.06 683.38L171.14 684.18L173.22 684.99L175.29 685.78L177.37 686.57L179.45 687.35L181.52 688.13L183.6 688.9L185.68 689.67L187.76 690.43L189.83 691.19L191.91 691.95L193.99 692.7L196.07 693.45L198.14 694.19L200.22 694.93L202.3 695.66L204.37 696.4L206.45 697.13L208.53 697.86L210.61 698.59L212.68 699.32L214.76 700.06L216.84 700.79L218.92 701.53L220.99 702.28L223.07 703.03L225.15 703.78L227.23 704.55L229.3 705.32L231.38 706.1L233.46 706.89L235.53 707.69L237.61 708.5L239.69 709.32L241.77 710.16L243.84 711.01L245.92 711.88L248 712.76L250.08 713.66L252.15 714.57L254.23 715.51L256.31 716.46L258.38 717.43L260.46 718.43L262.54 719.45L264.62 720.49L266.69 721.55L268.77 722.64L270.85 723.76L272.93 724.9L275 726.06L277.08 727.25L279.16 728.47L281.24 729.72L283.31 730.99L285.39 732.3L287.47 733.65L289.54 735.05L291.62 736.49L293.7 737.98L295.78 739.52L297.85 741.11L299.93 742.74L302.01 744.4L304.09 746.09L306.16 747.8L308.24 749.52L310.32 751.24L312.39 752.97L314.47 754.69L316.55 756.42L318.63 758.14L320.7 759.87L322.78 761.61L324.86 763.37L326.94 765.15L329.01 766.96L331.09 768.78L333.17 770.63L335.25 772.51L337.32 774.41L339.4 776.34" stroke="#000" stroke-width="1.95" fill="none"/>
<path d="M92.2 655.16L94.28 656.3L96.35 657.42L98.43 658.52L100.51 659.62L102.59 660.7L104.66 661.76L106.74 662.81L108.82 663.85L110.9 664.88L112.97 665.89L115.05 666.89L117.13 667.88L119.21 668.85L121.28 669.82L123.36 670.77L125.44 671.7L127.51 672.63L129.59 673.55L131.67 674.45L133.75 675.34L135.82 676.23L137.9 677.1L139.98 677.96L142.06 678.81L144.13 679.65L146.21 680.48L148.29 681.29L150.36 682.1L152.44 682.9L154.52 683.7L156.6 684.48L158.67 685.25L160.75 686.02L162.83 686.79L164.91 687.55L166.98 688.32L169.06 689.08L171.14 689.85L173.22 690.59L175.29 691.31L177.37 691.99L179.45 692.63L181.52 693.22L183.6 693.77L185.68 694.31L187.76 694.83L189.83 695.36L191.91 695.9L193.99 696.48L196.07 697.07L198.14 697.69L200.22 698.33L202.3 698.99L204.37 699.65L206.45 700.32L208.53 701L210.61 701.68L212.68 702.36L214.76 703.05L216.84 703.74L218.92 704.44L220.99 705.15L223.07 705.86L225.15 706.59L227.23 707.32L229.3 708.06L231.38 708.82L233.46 709.59L235.53 710.37L237.61 711.17L239.69 711.98L241.77 712.81L243.84 713.65L245.92 714.51L248 715.39L250.08 716.28L252.15 717.19L254.23 718.12L256.31 719.06L258.38 720.03L260.46 721L262.54 722L264.62 723.01L266.69 724.04L268.77 725.09L270.85 726.15L272.93 727.23L275 728.33L277.08 729.45L279.16 730.6L281.24 731.77L283.31 732.97L285.39 734.21L287.47 735.48L289.54 736.8L291.62 738.16L293.7 739.58L295.78 741.04L297.85 742.55L299.93 744.1L302.01 745.69L304.09 747.3L306.16 748.94L308.24 750.59L310.32 752.26L312.39 753.94L314.47 755.62L316.55 757.31L318.63 759.01L320.7 760.72L322.78 762.46L324.86 764.22L326.94 766L329.01 767.81L331.09 769.65L333.17 771.52L335.25 773.43L337.32 775.36L339.4 777.33" stroke="#1a6a12" stroke-width="1.8" fill="none" stroke-dasharray="2.7 4.4 12 4.3"/>
<path d="M92.2 676.81L94.28 677.95L96.35 679.06L98.43 680.14L100.51 681.18L102.59 682.19L104.66 683.17L106.74 684.11L108.82 685.03L110.9 685.92L112.97 686.78L115.05 687.61L117.13 688.41L119.21 689.18L121.28 689.93L123.36 690.65L125.44 691.35L127.51 692.02L129.59 692.66L131.67 693.28L133.75 693.88L135.82 694.46L137.9 695.02L139.98 695.55L142.06 696.07L144.13 696.57L146.21 697.06L148.29 697.53L150.36 698L152.44 698.45L154.52 698.9L156.6 699.34L158.67 699.76L160.75 700.17L162.83 700.56L164.91 700.93L166.98 701.28L169.06 701.6L171.14 701.89L173.22 702.16L175.29 702.4L177.37 702.63L179.45 702.85L181.52 703.06L183.6 703.27L185.68 703.49L187.76 703.7L189.83 703.93L191.91 704.17L193.99 704.41L196.07 704.68L198.14 704.96L200.22 705.27L202.3 705.59L204.37 705.94L206.45 706.31L208.53 706.7L210.61 707.12L212.68 707.55L214.76 708.01L216.84 708.48L218.92 708.98L220.99 709.49L223.07 710.02L225.15 710.57L227.23 711.14L229.3 711.73L231.38 712.35L233.46 713L235.53 713.67L237.61 714.37L239.69 715.09L241.77 715.85L243.84 716.63L245.92 717.45L248 718.28L250.08 719.15L252.15 720.03L254.23 720.94L256.31 721.88L258.38 722.83L260.46 723.82L262.54 724.82L264.62 725.85L266.69 726.9L268.77 727.97L270.85 729.08L272.93 730.21L275 731.38L277.08 732.58L279.16 733.83L281.24 735.11L283.31 736.42L285.39 737.76L287.47 739.12L289.54 740.51L291.62 741.92L293.7 743.34L295.78 744.79L297.85 746.25L299.93 747.73L302.01 749.23L304.09 750.74L306.16 752.27L308.24 753.81L310.32 755.38L312.39 756.95L314.47 758.54L316.55 760.15L318.63 761.77L320.7 763.4L322.78 765.05L324.86 766.72L326.94 768.39L329.01 770.08L331.09 771.79L333.17 773.49L335.25 775.21L337.32 776.93L339.4 778.66" stroke="#ff0000" stroke-width="1.8" fill="none" stroke-dasharray="12.4 8.7"/>
<path d="M92.2 651.58L94.28 652.52L96.35 653.45L98.43 654.37L100.51 655.3L102.59 656.22L104.66 657.14L106.74 658.05L108.82 658.96L110.9 659.87L112.97 660.78L115.05 661.68L117.13 662.58L119.21 663.47L121.28 664.37L123.36 665.26L125.44 666.14L127.51 667.03L129.59 667.91L131.67 668.79L133.75 669.66L135.82 670.53L137.9 671.4L139.98 672.27L142.06 673.13L144.13 673.99L146.21 674.85L148.29 675.7L150.36 676.56L152.44 677.41L154.52 678.25L156.6 679.1L158.67 679.94L160.75 680.78L162.83 681.61L164.91 682.44L166.98 683.26L169.06 684.08L171.14 684.88L173.22 685.69L175.29 686.48L177.37 687.27L179.45 688.05L181.52 688.83L183.6 689.6L185.68 690.37L187.76 691.13L189.83 691.89L191.91 692.65L193.99 693.4L196.07 694.15L198.14 694.89L200.22 695.63L202.3 696.36L204.37 697.1L206.45 697.83L208.53 698.56L210.61 699.29L212.68 700.01L214.76 700.71L216.84 701.41L218.92 702.12L220.99 702.83L223.07 703.55L225.15 704.27L227.23 705L229.3 705.73L231.38 706.48L233.46 707.24L235.53 708L237.61 708.78L239.69 709.57L241.77 710.37L243.84 711.21L245.92 712.08L248 712.96L250.08 713.86L252.15 714.77L254.23 715.71L256.31 716.66L258.38 717.63L260.46 718.63L262.54 719.65L264.62 720.69L266.69 721.75L268.77 722.84L270.85 723.96L272.93 725.1L275 726.26L277.08 727.45L279.16 728.67L281.24 729.92L283.31 731.19L285.39 732.5L287.47 733.85L289.54 735.25L291.62 736.69L293.7 738.18L295.78 739.72L297.85 741.31L299.93 742.94L302.01 744.6L304.09 746.29L306.16 748L308.24 749.72L310.32 751.44L312.39 753.17L314.47 754.89L316.55 756.62L318.63 758.34L320.7 760.07L322.78 761.81L324.86 763.57L326.94 765.35L329.01 767.16L331.09 768.98L333.17 770.83L335.25 772.71L337.32 774.61L339.4 776.54" stroke="#0000ff" stroke-width="1.9" fill="none" stroke-dasharray="30.4 8.7"/>
</g>
<clipPath id="c4"><rect x="339.4" y="598" width="255.1" height="219.1"/></clipPath>
<g clip-path="url(#c4)">
<path d="M354.3 621.2V670.3M350.2 621.2h8.2M350.2 670.3h8.2" stroke="#000" stroke-width="1.5" fill="none"/>
<circle cx="354.3" cy="632.95" r="4.65" fill="#00ffff" stroke="#000" stroke-width="0.95"/>
<circle cx="371.92" cy="636.65" r="4.65" fill="#00ffff" stroke="#000" stroke-width="0.95"/>
<path d="M389.54 640.5V667.2M385.44 640.5h8.2M385.44 667.2h8.2" stroke="#000" stroke-width="1.5" fill="none"/>
<circle cx="389.54" cy="649.15" r="4.65" fill="#00ffff" stroke="#000" stroke-width="0.95"/>
<path d="M407.16 652.5V670.3M403.06 652.5h8.2M403.06 670.3h8.2" stroke="#000" stroke-width="1.5" fill="none"/>
<circle cx="407.16" cy="659.25" r="4.65" fill="#00ffff" stroke="#000" stroke-width="0.95"/>
<path d="M424.78 665V674.2M420.68 665h8.2M420.68 674.2h8.2" stroke="#000" stroke-width="1.5" fill="none"/>
<circle cx="424.78" cy="669.65" r="4.65" fill="#00ffff" stroke="#000" stroke-width="0.95"/>
<circle cx="442.4" cy="679.65" r="4.65" fill="#00ffff" stroke="#000" stroke-width="0.95"/>
<circle cx="460.02" cy="686.35" r="4.65" fill="#00ffff" stroke="#000" stroke-width="0.95"/>
<circle cx="477.64" cy="694.45" r="4.65" fill="#00ffff" stroke="#000" stroke-width="0.95"/>
<circle cx="495.26" cy="701.75" r="4.65" fill="#00ffff" stroke="#000" stroke-width="0.95"/>
<circle cx="512.88" cy="708.75" r="4.65" fill="#00ffff" stroke="#000" stroke-width="0.95"/>
<circle cx="530.5" cy="718.25" r="4.65" fill="#00ffff" stroke="#000" stroke-width="0.95"/>
<circle cx="548.12" cy="729.65" r="4.65" fill="#00ffff" stroke="#000" stroke-width="0.95"/>
<circle cx="565.74" cy="742.45" r="4.65" fill="#00ffff" stroke="#000" stroke-width="0.95"/>
<path d="M583.36 751.2V767.7M579.26 751.2h8.2M579.26 767.7h8.2" stroke="#000" stroke-width="1.5" fill="none"/>
<circle cx="583.36" cy="757.35" r="4.65" fill="#00ffff" stroke="#000" stroke-width="0.95"/>
<path d="M347.1 632.63L349.18 633.48L351.26 634.34L353.34 635.23L355.42 636.14L357.49 637.06L359.57 638.01L361.65 638.97L363.73 639.95L365.81 640.94L367.89 641.95L369.97 642.97L372.05 644.01L374.13 645.06L376.21 646.13L378.28 647.2L380.36 648.29L382.44 649.39L384.52 650.5L386.6 651.61L388.68 652.74L390.76 653.87L392.84 655L394.92 656.13L397 657.27L399.07 658.4L401.15 659.53L403.23 660.65L405.31 661.77L407.39 662.87L409.47 663.97L411.55 665.05L413.63 666.12L415.71 667.17L417.79 668.19L419.86 669.2L421.94 670.19L424.02 671.15L426.1 672.1L428.18 673.02L430.26 673.92L432.34 674.81L434.42 675.68L436.5 676.54L438.58 677.38L440.65 678.21L442.73 679.03L444.81 679.84L446.89 680.65L448.97 681.44L451.05 682.23L453.13 683.02L455.21 683.8L457.29 684.57L459.37 685.34L461.44 686.11L463.52 686.89L465.6 687.65L467.68 688.43L469.76 689.2L471.84 689.97L473.92 690.74L476 691.52L478.08 692.29L480.16 693.08L482.23 693.87L484.31 694.66L486.39 695.47L488.47 696.28L490.55 697.11L492.63 697.95L494.71 698.8L496.79 699.66L498.87 700.54L500.95 701.42L503.02 702.32L505.1 703.23L507.18 704.15L509.26 705.09L511.34 706.04L513.42 707.02L515.5 708.01L517.58 709.02L519.66 710.06L521.74 711.12L523.81 712.21L525.89 713.32L527.97 714.46L530.05 715.64L532.13 716.84L534.21 718.08L536.29 719.35L538.37 720.65L540.45 721.97L542.53 723.32L544.6 724.69L546.68 726.09L548.76 727.51L550.84 728.96L552.92 730.43L555 731.93L557.08 733.46L559.16 735.01L561.24 736.59L563.32 738.2L565.39 739.84L567.47 741.52L569.55 743.22L571.63 744.96L573.71 746.73L575.79 748.53L577.87 750.36L579.95 752.22L582.03 754.1L584.11 756.01L586.18 757.95L588.26 759.92L590.34 761.91L592.42 763.92L594.5 765.96" stroke="#000" stroke-width="1.95" fill="none"/>
<path d="M347.1 640.62L349.18 641.45L351.26 642.31L353.34 643.2L355.42 644.12L357.49 645.07L359.57 646.04L361.65 647.04L363.73 648.06L365.81 649.09L367.89 650.15L369.97 651.22L372.05 652.3L374.13 653.39L376.21 654.49L378.28 655.6L380.36 656.71L382.44 657.82L384.52 658.93L386.6 660.04L388.68 661.15L390.76 662.25L392.84 663.35L394.92 664.44L397 665.51L399.07 666.58L401.15 667.64L403.23 668.68L405.31 669.71L407.39 670.72L409.47 671.72L411.55 672.69L413.63 673.65L415.71 674.58L417.79 675.49L419.86 676.37L421.94 677.23L424.02 678.06L426.1 678.86L428.18 679.64L430.26 680.39L432.34 681.13L434.42 681.85L436.5 682.55L438.58 683.23L440.65 683.91L442.73 684.57L444.81 685.23L446.89 685.88L448.97 686.52L451.05 687.16L453.13 687.79L455.21 688.42L457.29 689.05L459.37 689.68L461.44 690.31L463.52 690.94L465.6 691.58L467.68 692.23L469.76 692.87L471.84 693.53L473.92 694.2L476 694.87L478.08 695.55L480.16 696.23L482.23 696.92L484.31 697.62L486.39 698.33L488.47 699.05L490.55 699.78L492.63 700.53L494.71 701.29L496.79 702.06L498.87 702.84L500.95 703.64L503.02 704.46L505.1 705.29L507.18 706.14L509.26 707.01L511.34 707.9L513.42 708.82L515.5 709.76L517.58 710.73L519.66 711.73L521.74 712.77L523.81 713.84L525.89 714.94L527.97 716.07L530.05 717.22L532.13 718.4L534.21 719.61L536.29 720.84L538.37 722.11L540.45 723.4L542.53 724.72L544.6 726.07L546.68 727.45L548.76 728.85L550.84 730.28L552.92 731.73L555 733.2L557.08 734.69L559.16 736.2L561.24 737.73L563.32 739.29L565.39 740.88L567.47 742.49L569.55 744.13L571.63 745.8L573.71 747.51L575.79 749.24L577.87 751.01L579.95 752.8L582.03 754.64L584.11 756.5L586.18 758.39L588.26 760.32L590.34 762.28L592.42 764.27L594.5 766.29" stroke="#1a6a12" stroke-width="1.8" fill="none" stroke-dasharray="2.7 4.4 12 4.3"/>
<path d="M347.1 661.52L349.18 662.58L351.26 663.62L353.34 664.63L355.42 665.63L357.49 666.6L359.57 667.55L361.65 668.48L363.73 669.4L365.81 670.29L367.89 671.16L369.97 672.01L372.05 672.84L374.13 673.65L376.21 674.44L378.28 675.22L380.36 675.97L382.44 676.7L384.52 677.42L386.6 678.12L388.68 678.79L390.76 679.45L392.84 680.09L394.92 680.72L397 681.32L399.07 681.91L401.15 682.48L403.23 683.03L405.31 683.56L407.39 684.08L409.47 684.57L411.55 685.05L413.63 685.5L415.71 685.93L417.79 686.33L419.86 686.7L421.94 687.04L424.02 687.36L426.1 687.65L428.18 687.94L430.26 688.22L432.34 688.51L434.42 688.81L436.5 689.12L438.58 689.44L440.65 689.77L442.73 690.11L444.81 690.46L446.89 690.81L448.97 691.17L451.05 691.54L453.13 691.92L455.21 692.3L457.29 692.7L459.37 693.11L461.44 693.53L463.52 693.97L465.6 694.42L467.68 694.89L469.76 695.38L471.84 695.88L473.92 696.4L476 696.93L478.08 697.48L480.16 698.04L482.23 698.62L484.31 699.22L486.39 699.84L488.47 700.49L490.55 701.16L492.63 701.86L494.71 702.58L496.79 703.33L498.87 704.1L500.95 704.9L503.02 705.73L505.1 706.58L507.18 707.45L509.26 708.35L511.34 709.27L513.42 710.22L515.5 711.19L517.58 712.18L519.66 713.21L521.74 714.25L523.81 715.32L525.89 716.42L527.97 717.55L530.05 718.71L532.13 719.91L534.21 721.14L536.29 722.4L538.37 723.69L540.45 725.01L542.53 726.36L544.6 727.73L546.68 729.13L548.76 730.55L550.84 731.99L552.92 733.46L555 734.96L557.08 736.47L559.16 738.01L561.24 739.57L563.32 741.14L565.39 742.73L567.47 744.32L569.55 745.93L571.63 747.55L573.71 749.17L575.79 750.82L577.87 752.48L579.95 754.16L582.03 755.86L584.11 757.59L586.18 759.34L588.26 761.11L590.34 762.9L592.42 764.72L594.5 766.57" stroke="#ff0000" stroke-width="1.8" fill="none" stroke-dasharray="12.4 8.7"/>
<path d="M347.1 633.13L349.18 633.98L351.26 634.84L353.34 635.73L355.42 636.64L357.49 637.56L359.57 638.51L361.65 639.47L363.73 640.45L365.81 641.44L367.89 642.45L369.97 643.47L372.05 644.51L374.13 645.56L376.21 646.63L378.28 647.7L380.36 648.79L382.44 649.89L384.52 651L386.6 652.11L388.68 653.24L390.76 654.37L392.84 655.5L394.92 656.63L397 657.77L399.07 658.9L401.15 660.03L403.23 661.15L405.31 662.27L407.39 663.37L409.47 664.47L411.55 665.55L413.63 666.62L415.71 667.67L417.79 668.69L419.86 669.7L421.94 670.69L424.02 671.65L426.1 672.6L428.18 673.52L430.26 674.42L432.34 675.31L434.42 676.18L436.5 677.04L438.58 677.88L440.65 678.71L442.73 679.53L444.81 680.34L446.89 681.15L448.97 681.94L451.05 682.73L453.13 683.52L455.21 684.3L457.29 685.07L459.37 685.84L461.44 686.61L463.52 687.39L465.6 688.15L467.68 688.92L469.76 689.67L471.84 690.42L473.92 691.17L476 691.93L478.08 692.69L480.16 693.45L482.23 694.22L484.31 694.99L486.39 695.78L488.47 696.57L490.55 697.38L492.63 698.2L494.71 699.03L496.79 699.87L498.87 700.74L500.95 701.62L503.02 702.52L505.1 703.43L507.18 704.35L509.26 705.29L511.34 706.24L513.42 707.22L515.5 708.21L517.58 709.22L519.66 710.26L521.74 711.32L523.81 712.41L525.89 713.52L527.97 714.66L530.05 715.84L532.13 717.04L534.21 718.28L536.29 719.55L538.37 720.85L540.45 722.17L542.53 723.52L544.6 724.89L546.68 726.29L548.76 727.71L550.84 729.16L552.92 730.63L555 732.13L557.08 733.66L559.16 735.21L561.24 736.79L563.32 738.4L565.39 740.04L567.47 741.72L569.55 743.42L571.63 745.16L573.71 746.93L575.79 748.73L577.87 750.56L579.95 752.42L582.03 754.3L584.11 756.21L586.18 758.15L588.26 760.12L590.34 762.11L592.42 764.12L594.5 766.16" stroke="#0000ff" stroke-width="1.9" fill="none" stroke-dasharray="30.4 8.7"/>
</g>
<path d="M92.2 378.9v13.7M92.2 598v-13.7M109.88 378.9v7M109.88 598v-7M127.56 378.9v7M127.56 598v-7M145.24 378.9v7M145.24 598v-7M162.92 378.9v7M162.92 598v-7M180.6 378.9v13.7M180.6 598v-13.7M198.28 378.9v7M198.28 598v-7M215.96 378.9v7M215.96 598v-7M233.64 378.9v7M233.64 598v-7M251.32 378.9v7M251.32 598v-7M269 378.9v13.7M269 598v-13.7M286.68 378.9v7M286.68 598v-7M304.36 378.9v7M304.36 598v-7M322.04 378.9v7M322.04 598v-7M84.6 588.26h7M339.4 588.26h-7M84.6 578.52h7M339.4 578.52h-7M84.6 568.79h7M339.4 568.79h-7M84.6 559.05h7M339.4 559.05h-7M84.6 549.31h13.7M339.4 549.31h-13.7M84.6 539.57h7M339.4 539.57h-7M84.6 529.84h7M339.4 529.84h-7M84.6 520.1h7M339.4 520.1h-7M84.6 510.36h7M339.4 510.36h-7M84.6 500.62h13.7M339.4 500.62h-13.7M84.6 490.88h7M339.4 490.88h-7M84.6 481.15h7M339.4 481.15h-7M84.6 471.41h7M339.4 471.41h-7M84.6 461.67h7M339.4 461.67h-7M84.6 451.93h13.7M339.4 451.93h-13.7M84.6 442.2h7M339.4 442.2h-7M84.6 432.46h7M339.4 432.46h-7M84.6 422.72h7M339.4 422.72h-7M84.6 412.98h7M339.4 412.98h-7M84.6 403.24h13.7M339.4 403.24h-13.7M84.6 393.51h7M339.4 393.51h-7M84.6 383.77h7M339.4 383.77h-7" stroke="#000" stroke-width="1.75" fill="none"/>
<rect x="84.6" y="378.9" width="254.8" height="219.1" fill="none" stroke="#000" stroke-width="1.75"/>
<path d="M347.1 378.9v13.7M347.1 598v-13.7M364.78 378.9v7M364.78 598v-7M382.46 378.9v7M382.46 598v-7M400.14 378.9v7M400.14 598v-7M417.82 378.9v7M417.82 598v-7M435.5 378.9v13.7M435.5 598v-13.7M453.18 378.9v7M453.18 598v-7M470.86 378.9v7M470.86 598v-7M488.54 378.9v7M488.54 598v-7M506.22 378.9v7M506.22 598v-7M523.9 378.9v13.7M523.9 598v-13.7M541.58 378.9v7M541.58 598v-7M559.26 378.9v7M559.26 598v-7M576.94 378.9v7M576.94 598v-7M339.4 588.26h7M594.5 588.26h-7M339.4 578.52h7M594.5 578.52h-7M339.4 568.79h7M594.5 568.79h-7M339.4 559.05h7M594.5 559.05h-7M339.4 549.31h13.7M594.5 549.31h-13.7M339.4 539.57h7M594.5 539.57h-7M339.4 529.84h7M594.5 529.84h-7M339.4 520.1h7M594.5 520.1h-7M339.4 510.36h7M594.5 510.36h-7M339.4 500.62h13.7M594.5 500.62h-13.7M339.4 490.88h7M594.5 490.88h-7M339.4 481.15h7M594.5 481.15h-7M339.4 471.41h7M594.5 471.41h-7M339.4 461.67h7M594.5 461.67h-7M339.4 451.93h13.7M594.5 451.93h-13.7M339.4 442.2h7M594.5 442.2h-7M339.4 432.46h7M594.5 432.46h-7M339.4 422.72h7M594.5 422.72h-7M339.4 412.98h7M594.5 412.98h-7M339.4 403.24h13.7M594.5 403.24h-13.7M339.4 393.51h7M594.5 393.51h-7M339.4 383.77h7M594.5 383.77h-7" stroke="#000" stroke-width="1.75" fill="none"/>
<rect x="339.4" y="378.9" width="255.1" height="219.1" fill="none" stroke="#000" stroke-width="1.75"/>
<path d="M602.55 378.9v13.7M602.55 598v-13.7M620.23 378.9v7M620.23 598v-7M637.91 378.9v7M637.91 598v-7M655.59 378.9v7M655.59 598v-7M673.27 378.9v7M673.27 598v-7M690.95 378.9v13.7M690.95 598v-13.7M708.63 378.9v7M708.63 598v-7M726.31 378.9v7M726.31 598v-7M743.99 378.9v7M743.99 598v-7M761.67 378.9v7M761.67 598v-7M779.35 378.9v13.7M779.35 598v-13.7M797.03 378.9v7M797.03 598v-7M814.71 378.9v7M814.71 598v-7M832.39 378.9v7M832.39 598v-7M594.5 588.26h7M850 588.26h-7M594.5 578.52h7M850 578.52h-7M594.5 568.79h7M850 568.79h-7M594.5 559.05h7M850 559.05h-7M594.5 549.31h13.7M850 549.31h-13.7M594.5 539.57h7M850 539.57h-7M594.5 529.84h7M850 529.84h-7M594.5 520.1h7M850 520.1h-7M594.5 510.36h7M850 510.36h-7M594.5 500.62h13.7M850 500.62h-13.7M594.5 490.88h7M850 490.88h-7M594.5 481.15h7M850 481.15h-7M594.5 471.41h7M850 471.41h-7M594.5 461.67h7M850 461.67h-7M594.5 451.93h13.7M850 451.93h-13.7M594.5 442.2h7M850 442.2h-7M594.5 432.46h7M850 432.46h-7M594.5 422.72h7M850 422.72h-7M594.5 412.98h7M850 412.98h-7M594.5 403.24h13.7M850 403.24h-13.7M594.5 393.51h7M850 393.51h-7M594.5 383.77h7M850 383.77h-7" stroke="#000" stroke-width="1.75" fill="none"/>
<rect x="594.5" y="378.9" width="255.5" height="219.1" fill="none" stroke="#000" stroke-width="1.75"/>
<path d="M92.2 598v13.7M92.2 817.1v-13.7M109.88 598v7M109.88 817.1v-7M127.56 598v7M127.56 817.1v-7M145.24 598v7M145.24 817.1v-7M162.92 598v7M162.92 817.1v-7M180.6 598v13.7M180.6 817.1v-13.7M198.28 598v7M198.28 817.1v-7M215.96 598v7M215.96 817.1v-7M233.64 598v7M233.64 817.1v-7M251.32 598v7M251.32 817.1v-7M269 598v13.7M269 817.1v-13.7M286.68 598v7M286.68 817.1v-7M304.36 598v7M304.36 817.1v-7M322.04 598v7M322.04 817.1v-7M84.6 808.34h7M339.4 808.34h-7M84.6 799.57h7M339.4 799.57h-7M84.6 790.81h7M339.4 790.81h-7M84.6 782.04h7M339.4 782.04h-7M84.6 773.28h13.7M339.4 773.28h-13.7M84.6 764.52h7M339.4 764.52h-7M84.6 755.75h7M339.4 755.75h-7M84.6 746.99h7M339.4 746.99h-7M84.6 738.22h7M339.4 738.22h-7M84.6 729.46h13.7M339.4 729.46h-13.7M84.6 720.7h7M339.4 720.7h-7M84.6 711.93h7M339.4 711.93h-7M84.6 703.17h7M339.4 703.17h-7M84.6 694.4h7M339.4 694.4h-7M84.6 685.64h13.7M339.4 685.64h-13.7M84.6 676.88h7M339.4 676.88h-7M84.6 668.11h7M339.4 668.11h-7M84.6 659.35h7M339.4 659.35h-7M84.6 650.58h7M339.4 650.58h-7M84.6 641.82h13.7M339.4 641.82h-13.7M84.6 633.06h7M339.4 633.06h-7M84.6 624.29h7M339.4 624.29h-7M84.6 615.53h7M339.4 615.53h-7M84.6 606.76h7M339.4 606.76h-7" stroke="#000" stroke-width="1.75" fill="none"/>
<rect x="84.6" y="598" width="254.8" height="219.1" fill="none" stroke="#000" stroke-width="1.75"/>
<path d="M347.1 598v13.7M347.1 817.1v-13.7M364.78 598v7M364.78 817.1v-7M382.46 598v7M382.46 817.1v-7M400.14 598v7M400.14 817.1v-7M417.82 598v7M417.82 817.1v-7M435.5 598v13.7M435.5 817.1v-13.7M453.18 598v7M453.18 817.1v-7M470.86 598v7M470.86 817.1v-7M488.54 598v7M488.54 817.1v-7M506.22 598v7M506.22 817.1v-7M523.9 598v13.7M523.9 817.1v-13.7M541.58 598v7M541.58 817.1v-7M559.26 598v7M559.26 817.1v-7M576.94 598v7M576.94 817.1v-7M339.4 808.34h7M594.5 808.34h-7M339.4 799.57h7M594.5 799.57h-7M339.4 790.81h7M594.5 790.81h-7M339.4 782.04h7M594.5 782.04h-7M339.4 773.28h13.7M594.5 773.28h-13.7M339.4 764.52h7M594.5 764.52h-7M339.4 755.75h7M594.5 755.75h-7M339.4 746.99h7M594.5 746.99h-7M339.4 738.22h7M594.5 738.22h-7M339.4 729.46h13.7M594.5 729.46h-13.7M339.4 720.7h7M594.5 720.7h-7M339.4 711.93h7M594.5 711.93h-7M339.4 703.17h7M594.5 703.17h-7M339.4 694.4h7M594.5 694.4h-7M339.4 685.64h13.7M594.5 685.64h-13.7M339.4 676.88h7M594.5 676.88h-7M339.4 668.11h7M594.5 668.11h-7M339.4 659.35h7M594.5 659.35h-7M339.4 650.58h7M594.5 650.58h-7M339.4 641.82h13.7M594.5 641.82h-13.7M339.4 633.06h7M594.5 633.06h-7M339.4 624.29h7M594.5 624.29h-7M339.4 615.53h7M594.5 615.53h-7M339.4 606.76h7M594.5 606.76h-7" stroke="#000" stroke-width="1.75" fill="none"/>
<rect x="339.4" y="598" width="255.1" height="219.1" fill="none" stroke="#000" stroke-width="1.75"/>
<g><text transform="translate(130.09 872.5) scale(0.7800 1)" font-family="Liberation Serif" font-size="22.5" fill="#000" stroke="#000" stroke-width="0.6" vector-effect="non-scaling-stroke">l</text><text transform="translate(135.7 872.5) scale(0.9511 1)" font-family="Liberation Serif" font-size="22.5" fill="#000" stroke="#000" stroke-width="0.6" vector-effect="non-scaling-stroke">o</text><text transform="translate(147.56 872.5) scale(1.1800 1)" font-family="Liberation Serif" font-size="22.5" fill="#000" stroke="#000" stroke-width="0.6" vector-effect="non-scaling-stroke">g</text><text transform="translate(173.05 872.5) scale(1.1800 1)" font-family="Liberation Serif" font-size="22.5" fill="#000" stroke="#000" stroke-width="0.6" vector-effect="non-scaling-stroke">r</text><text transform="translate(205.1 873.1) scale(0.7800 1)" font-family="Liberation Serif" font-size="24.53" fill="#000" stroke="#000" stroke-width="0.6" vector-effect="non-scaling-stroke">[</text><text transform="translate(212.94 872.5) scale(0.7800 1)" font-family="Liberation Serif" font-size="22.5" fill="#000" stroke="#000" stroke-width="0.6" vector-effect="non-scaling-stroke">M</text><text transform="translate(230 872.5) scale(1.1200 1)" font-family="Liberation Serif" font-size="22.5" fill="#000" stroke="#000" stroke-width="0.6" vector-effect="non-scaling-stroke">p</text><text transform="translate(244 872.5) scale(0.9288 1)" font-family="Liberation Serif" font-size="22.5" fill="#000" stroke="#000" stroke-width="0.6" vector-effect="non-scaling-stroke">c</text><line x1="256.3" y1="877.7" x2="271.2" y2="856.1" stroke="#000" stroke-width="1.7"/><text transform="translate(271.2 872.5) scale(1.0933 1)" font-family="Liberation Serif" font-size="22.5" fill="#000" stroke="#000" stroke-width="0.6" vector-effect="non-scaling-stroke">h</text><text transform="translate(286.8 873.1) scale(0.7800 1)" font-family="Liberation Serif" font-size="24.53" fill="#000" stroke="#000" stroke-width="0.6" vector-effect="non-scaling-stroke">]</text><text transform="translate(183.9 877.4) scale(1.0935 1)" font-family="Liberation Serif" font-size="14.5" font-weight="bold" fill="#000" stroke="#000" stroke-width="0.5" vector-effect="non-scaling-stroke">p</text></g>
<g><text transform="translate(384.99 872.5) scale(0.7800 1)" font-family="Liberation Serif" font-size="22.5" fill="#000" stroke="#000" stroke-width="0.6" vector-effect="non-scaling-stroke">l</text><text transform="translate(390.6 872.5) scale(0.9511 1)" font-family="Liberation Serif" font-size="22.5" fill="#000" stroke="#000" stroke-width="0.6" vector-effect="non-scaling-stroke">o</text><text transform="translate(402.46 872.5) scale(1.1800 1)" font-family="Liberation Serif" font-size="22.5" fill="#000" stroke="#000" stroke-width="0.6" vector-effect="non-scaling-stroke">g</text><text transform="translate(427.95 872.5) scale(1.1800 1)" font-family="Liberation Serif" font-size="22.5" fill="#000" stroke="#000" stroke-width="0.6" vector-effect="non-scaling-stroke">r</text><text transform="translate(460 873.1) scale(0.7800 1)" font-family="Liberation Serif" font-size="24.53" fill="#000" stroke="#000" stroke-width="0.6" vector-effect="non-scaling-stroke">[</text><text transform="translate(467.84 872.5) scale(0.7800 1)" font-family="Liberation Serif" font-size="22.5" fill="#000" stroke="#000" stroke-width="0.6" vector-effect="non-scaling-stroke">M</text><text transform="translate(484.9 872.5) scale(1.1200 1)" font-family="Liberation Serif" font-size="22.5" fill="#000" stroke="#000" stroke-width="0.6" vector-effect="non-scaling-stroke">p</text><text transform="translate(498.9 872.5) scale(0.9288 1)" font-family="Liberation Serif" font-size="22.5" fill="#000" stroke="#000" stroke-width="0.6" vector-effect="non-scaling-stroke">c</text><line x1="511.2" y1="877.7" x2="526.1" y2="856.1" stroke="#000" stroke-width="1.7"/><text transform="translate(526.1 872.5) scale(1.0933 1)" font-family="Liberation Serif" font-size="22.5" fill="#000" stroke="#000" stroke-width="0.6" vector-effect="non-scaling-stroke">h</text><text transform="translate(541.7 873.1) scale(0.7800 1)" font-family="Liberation Serif" font-size="24.53" fill="#000" stroke="#000" stroke-width="0.6" vector-effect="non-scaling-stroke">]</text><text transform="translate(438.8 877.4) scale(1.0935 1)" font-family="Liberation Serif" font-size="14.5" font-weight="bold" fill="#000" stroke="#000" stroke-width="0.5" vector-effect="non-scaling-stroke">p</text></g>
<g transform="translate(22 585.7) rotate(-90)"><text transform="translate(-0.06 0) scale(0.7800 1)" font-family="Liberation Serif" font-size="22.5" fill="#000" stroke="#000" stroke-width="0.6" vector-effect="non-scaling-stroke">l</text><text transform="translate(7.9 0) scale(0.9244 1)" font-family="Liberation Serif" font-size="22.5" fill="#000" stroke="#000" stroke-width="0.6" vector-effect="non-scaling-stroke">o</text><text transform="translate(18.9 0) scale(0.9244 1)" font-family="Liberation Serif" font-size="22.5" fill="#000" stroke="#000" stroke-width="0.6" vector-effect="non-scaling-stroke">g</text><text transform="translate(43.4 0) scale(0.8272 1)" font-family="Liberation Serif" font-size="22.5" fill="#000" stroke="#000" stroke-width="0.6" vector-effect="non-scaling-stroke">w</text><text transform="translate(67.8 0.6) scale(0.8155 1)" font-family="Liberation Serif" font-size="24.53" fill="#000" stroke="#000" stroke-width="0.6" vector-effect="non-scaling-stroke">(</text><text transform="translate(77 0) scale(1.1277 1)" font-family="Liberation Serif" font-size="22.5" fill="#000" stroke="#000" stroke-width="0.6" vector-effect="non-scaling-stroke">r</text><text transform="translate(96.5 0.6) scale(0.8277 1)" font-family="Liberation Serif" font-size="24.53" fill="#000" stroke="#000" stroke-width="0.6" vector-effect="non-scaling-stroke">)</text><text transform="translate(105.85 0.6) scale(0.7800 1)" font-family="Liberation Serif" font-size="24.53" fill="#000" stroke="#000" stroke-width="0.6" vector-effect="non-scaling-stroke">[</text><text transform="translate(114.34 0) scale(0.7800 1)" font-family="Liberation Serif" font-size="22.5" fill="#000" stroke="#000" stroke-width="0.6" vector-effect="non-scaling-stroke">M</text><text transform="translate(132.2 0) scale(1.0933 1)" font-family="Liberation Serif" font-size="22.5" fill="#000" stroke="#000" stroke-width="0.6" vector-effect="non-scaling-stroke">p</text><text transform="translate(145.7 0) scale(0.9189 1)" font-family="Liberation Serif" font-size="22.5" fill="#000" stroke="#000" stroke-width="0.6" vector-effect="non-scaling-stroke">c</text><line x1="159.3" y1="5.2" x2="173.1" y2="-16.4" stroke="#000" stroke-width="1.7"/><text transform="translate(173.2 0) scale(1.0844 1)" font-family="Liberation Serif" font-size="22.5" fill="#000" stroke="#000" stroke-width="0.6" vector-effect="non-scaling-stroke">h</text><text transform="translate(188.05 0.6) scale(0.7800 1)" font-family="Liberation Serif" font-size="24.53" fill="#000" stroke="#000" stroke-width="0.6" vector-effect="non-scaling-stroke">]</text><text transform="translate(58.6 5.6) scale(0.8450 1)" font-family="Liberation Serif" font-size="14.5" font-weight="bold" fill="#000" stroke="#000" stroke-width="0.5" vector-effect="non-scaling-stroke">p</text><text transform="translate(87.4 5.6) scale(0.8326 1)" font-family="Liberation Serif" font-size="14.5" font-weight="bold" fill="#000" stroke="#000" stroke-width="0.5" vector-effect="non-scaling-stroke">p</text></g>
<g transform="translate(22 806) rotate(-90)"><text transform="translate(-0.06 0) scale(0.7800 1)" font-family="Liberation Serif" font-size="22.5" fill="#000" stroke="#000" stroke-width="0.6" vector-effect="non-scaling-stroke">l</text><text transform="translate(7.9 0) scale(0.9244 1)" font-family="Liberation Serif" font-size="22.5" fill="#000" stroke="#000" stroke-width="0.6" vector-effect="non-scaling-stroke">o</text><text transform="translate(18.9 0) scale(0.9244 1)" font-family="Liberation Serif" font-size="22.5" fill="#000" stroke="#000" stroke-width="0.6" vector-effect="non-scaling-stroke">g</text><text transform="translate(43.4 0) scale(0.8272 1)" font-family="Liberation Serif" font-size="22.5" fill="#000" stroke="#000" stroke-width="0.6" vector-effect="non-scaling-stroke">w</text><text transform="translate(67.8 0.6) scale(0.8155 1)" font-family="Liberation Serif" font-size="24.53" fill="#000" stroke="#000" stroke-width="0.6" vector-effect="non-scaling-stroke">(</text><text transform="translate(77 0) scale(1.1277 1)" font-family="Liberation Serif" font-size="22.5" fill="#000" stroke="#000" stroke-width="0.6" vector-effect="non-scaling-stroke">r</text><text transform="translate(96.5 0.6) scale(0.8277 1)" font-family="Liberation Serif" font-size="24.53" fill="#000" stroke="#000" stroke-width="0.6" vector-effect="non-scaling-stroke">)</text><text transform="translate(105.85 0.6) scale(0.7800 1)" font-family="Liberation Serif" font-size="24.53" fill="#000" stroke="#000" stroke-width="0.6" vector-effect="non-scaling-stroke">[</text><text transform="translate(114.34 0) scale(0.7800 1)" font-family="Liberation Serif" font-size="22.5" fill="#000" stroke="#000" stroke-width="0.6" vector-effect="non-scaling-stroke">M</text><text transform="translate(132.2 0) scale(1.0933 1)" font-family="Liberation Serif" font-size="22.5" fill="#000" stroke="#000" stroke-width="0.6" vector-effect="non-scaling-stroke">p</text><text transform="translate(145.7 0) scale(0.9189 1)" font-family="Liberation Serif" font-size="22.5" fill="#000" stroke="#000" stroke-width="0.6" vector-effect="non-scaling-stroke">c</text><line x1="159.3" y1="5.2" x2="173.1" y2="-16.4" stroke="#000" stroke-width="1.7"/><text transform="translate(173.2 0) scale(1.0844 1)" font-family="Liberation Serif" font-size="22.5" fill="#000" stroke="#000" stroke-width="0.6" vector-effect="non-scaling-stroke">h</text><text transform="translate(188.05 0.6) scale(0.7800 1)" font-family="Liberation Serif" font-size="24.53" fill="#000" stroke="#000" stroke-width="0.6" vector-effect="non-scaling-stroke">]</text><text transform="translate(58.6 5.6) scale(0.8450 1)" font-family="Liberation Serif" font-size="14.5" font-weight="bold" fill="#000" stroke="#000" stroke-width="0.5" vector-effect="non-scaling-stroke">p</text><text transform="translate(87.4 5.6) scale(0.8326 1)" font-family="Liberation Serif" font-size="14.5" font-weight="bold" fill="#000" stroke="#000" stroke-width="0.5" vector-effect="non-scaling-stroke">p</text></g>
<text transform="translate(62.2 605.8) scale(0.6000 1)" font-family="Liberation Serif" font-size="23" fill="#000" stroke="#000" stroke-width="0.5" vector-effect="non-scaling-stroke">1</text>
<line x1="45.2" y1="599.2" x2="58.7" y2="599.2" stroke="#000" stroke-width="1.7"/>
<text transform="translate(59.85 557.11) scale(0.9343 1)" font-family="Liberation Sans" font-size="21.6" fill="#000" stroke="#000" stroke-width="0.15" vector-effect="non-scaling-stroke">0</text>
<text transform="translate(62.2 508.42) scale(0.6000 1)" font-family="Liberation Serif" font-size="23" fill="#000" stroke="#000" stroke-width="0.5" vector-effect="non-scaling-stroke">1</text>
<text transform="translate(59.85 459.73) scale(0.9343 1)" font-family="Liberation Sans" font-size="21.6" fill="#000" stroke="#000" stroke-width="0.15" vector-effect="non-scaling-stroke">2</text>
<text transform="translate(59.85 411.04) scale(0.9343 1)" font-family="Liberation Sans" font-size="21.6" fill="#000" stroke="#000" stroke-width="0.15" vector-effect="non-scaling-stroke">3</text>
<text transform="translate(62.2 824.9) scale(0.6000 1)" font-family="Liberation Serif" font-size="23" fill="#000" stroke="#000" stroke-width="0.5" vector-effect="non-scaling-stroke">1</text>
<line x1="45.2" y1="818.3" x2="58.7" y2="818.3" stroke="#000" stroke-width="1.7"/>
<text transform="translate(59.85 781.08) scale(0.9343 1)" font-family="Liberation Sans" font-size="21.6" fill="#000" stroke="#000" stroke-width="0.15" vector-effect="non-scaling-stroke">0</text>
<text transform="translate(62.2 737.26) scale(0.6000 1)" font-family="Liberation Serif" font-size="23" fill="#000" stroke="#000" stroke-width="0.5" vector-effect="non-scaling-stroke">1</text>
<text transform="translate(59.85 693.44) scale(0.9343 1)" font-family="Liberation Sans" font-size="21.6" fill="#000" stroke="#000" stroke-width="0.15" vector-effect="non-scaling-stroke">2</text>
<text transform="translate(59.85 649.62) scale(0.9343 1)" font-family="Liberation Sans" font-size="21.6" fill="#000" stroke="#000" stroke-width="0.15" vector-effect="non-scaling-stroke">3</text>
<line x1="79" y1="837.7" x2="91.75" y2="837.7" stroke="#000" stroke-width="1.7"/>
<text transform="translate(97.65 844.3) scale(0.6000 1)" font-family="Liberation Serif" font-size="23" fill="#000" stroke="#000" stroke-width="0.5" vector-effect="non-scaling-stroke">1</text>
<text transform="translate(174.9 844.3) scale(0.9343 1)" font-family="Liberation Sans" font-size="21.6" fill="#000" stroke="#000" stroke-width="0.15" vector-effect="non-scaling-stroke">0</text>
<text transform="translate(264.85 844.3) scale(0.6000 1)" font-family="Liberation Serif" font-size="23" fill="#000" stroke="#000" stroke-width="0.5" vector-effect="non-scaling-stroke">1</text>
<line x1="333.9" y1="837.7" x2="346.65" y2="837.7" stroke="#000" stroke-width="1.7"/>
<text transform="translate(352.55 844.3) scale(0.6000 1)" font-family="Liberation Serif" font-size="23" fill="#000" stroke="#000" stroke-width="0.5" vector-effect="non-scaling-stroke">1</text>
<text transform="translate(429.8 844.3) scale(0.9343 1)" font-family="Liberation Sans" font-size="21.6" fill="#000" stroke="#000" stroke-width="0.15" vector-effect="non-scaling-stroke">0</text>
<text transform="translate(519.75 844.3) scale(0.6000 1)" font-family="Liberation Serif" font-size="23" fill="#000" stroke="#000" stroke-width="0.5" vector-effect="non-scaling-stroke">1</text>
<text transform="translate(110.4 402.8) scale(1.0230 1)" font-family="Liberation Sans" font-size="15.5" fill="#000" stroke="#000" stroke-width="0.6" vector-effect="non-scaling-stroke">9</text>
<text transform="translate(120.3 402.8) scale(1.1062 1)" font-family="Liberation Serif" font-size="16" fill="#000" stroke="#000" stroke-width="0.7" vector-effect="non-scaling-stroke">&lt;</text>
<text transform="translate(132.5 402.8) scale(0.7366 1)" font-family="Liberation Serif" font-size="16" fill="#000" stroke="#000" stroke-width="0.7" vector-effect="non-scaling-stroke">l</text>
<text transform="translate(136.4 402.8) scale(1.0375 1)" font-family="Liberation Serif" font-size="16" fill="#000" stroke="#000" stroke-width="0.7" vector-effect="non-scaling-stroke">o</text>
<text transform="translate(145.3 402.8) scale(1.1750 1)" font-family="Liberation Serif" font-size="16" fill="#000" stroke="#000" stroke-width="0.7" vector-effect="non-scaling-stroke">g</text>
<path d="M161.4 389.4H157.8V406.7H161.4" fill="none" stroke="#000" stroke-width="1.6"/>
<text transform="translate(162.5 402.8) scale(0.8216 1)" font-family="Liberation Serif" font-size="16" fill="#000" stroke="#000" stroke-width="0.7" vector-effect="non-scaling-stroke">M</text>
<text transform="translate(174.9 407.2) scale(1.1937 1)" font-family="Liberation Sans" font-size="8" font-weight="bold" fill="#000" stroke="#000" stroke-width="0.7" vector-effect="non-scaling-stroke">s</text>
<line x1="180.3" y1="406.4" x2="188.8" y2="390" stroke="#000" stroke-width="1.6"/>
<text transform="translate(190.9 403.2) scale(0.6913 1)" font-family="Liberation Serif" font-size="19" fill="#000" stroke="#000" stroke-width="0.7" vector-effect="non-scaling-stroke">(</text>
<text transform="translate(197 402.8) scale(1.1125 1)" font-family="Liberation Serif" font-size="16" fill="#000" stroke="#000" stroke-width="0.7" vector-effect="non-scaling-stroke">h</text>
<line x1="207.6" y1="396.7" x2="212.4" y2="396.7" stroke="#000" stroke-width="1.5"/>
<text transform="translate(213.2 399.3) scale(1.3514 1)" font-family="Liberation Sans" font-size="8" font-weight="bold" fill="#000" stroke="#000" stroke-width="0.5" vector-effect="non-scaling-stroke">2</text>
<text transform="translate(220.3 402.8) scale(0.8216 1)" font-family="Liberation Serif" font-size="16" fill="#000" stroke="#000" stroke-width="0.7" vector-effect="non-scaling-stroke">M</text>
<circle cx="236.3" cy="405" r="3.0" fill="none" stroke="#000" stroke-width="1.15"/><circle cx="236.3" cy="405" r="0.9" fill="#000"/>
<text transform="translate(241.4 403.2) scale(0.7227 1)" font-family="Liberation Serif" font-size="19" fill="#000" stroke="#000" stroke-width="0.7" vector-effect="non-scaling-stroke">)</text>
<path d="M248.1 389.4H251.8V406.7H248.1" fill="none" stroke="#000" stroke-width="1.6"/>
<text transform="translate(255.3 402.8) scale(1.1062 1)" font-family="Liberation Serif" font-size="16" fill="#000" stroke="#000" stroke-width="0.7" vector-effect="non-scaling-stroke">&lt;</text>
<text transform="translate(266.4 402.8) scale(1.0230 1)" font-family="Liberation Sans" font-size="15.5" fill="#000" stroke="#000" stroke-width="0.6" vector-effect="non-scaling-stroke">9</text>
<rect x="276.7" y="400.8" width="1.9" height="2" fill="#000"/>
<text transform="translate(280.7 402.8) scale(1.0230 1)" font-family="Liberation Sans" font-size="15.5" fill="#000" stroke="#000" stroke-width="0.6" vector-effect="non-scaling-stroke">5</text>
<text transform="translate(365.4 402.8) scale(1.0230 1)" font-family="Liberation Sans" font-size="15.5" fill="#000" stroke="#000" stroke-width="0.6" vector-effect="non-scaling-stroke">9</text>
<rect x="375.7" y="400.8" width="1.9" height="2" fill="#000"/>
<text transform="translate(379.7 402.8) scale(1.0230 1)" font-family="Liberation Sans" font-size="15.5" fill="#000" stroke="#000" stroke-width="0.6" vector-effect="non-scaling-stroke">5</text>
<text transform="translate(389.6 402.8) scale(1.1062 1)" font-family="Liberation Serif" font-size="16" fill="#000" stroke="#000" stroke-width="0.7" vector-effect="non-scaling-stroke">&lt;</text>
<text transform="translate(401.8 402.8) scale(0.7366 1)" font-family="Liberation Serif" font-size="16" fill="#000" stroke="#000" stroke-width="0.7" vector-effect="non-scaling-stroke">l</text>
<text transform="translate(405.7 402.8) scale(1.0375 1)" font-family="Liberation Serif" font-size="16" fill="#000" stroke="#000" stroke-width="0.7" vector-effect="non-scaling-stroke">o</text>
<text transform="translate(414.6 402.8) scale(1.1750 1)" font-family="Liberation Serif" font-size="16" fill="#000" stroke="#000" stroke-width="0.7" vector-effect="non-scaling-stroke">g</text>
<path d="M430.7 389.4H427.1V406.7H430.7" fill="none" stroke="#000" stroke-width="1.6"/>
<text transform="translate(431.8 402.8) scale(0.8216 1)" font-family="Liberation Serif" font-size="16" fill="#000" stroke="#000" stroke-width="0.7" vector-effect="non-scaling-stroke">M</text>
<text transform="translate(444.2 407.2) scale(1.1937 1)" font-family="Liberation Sans" font-size="8" font-weight="bold" fill="#000" stroke="#000" stroke-width="0.7" vector-effect="non-scaling-stroke">s</text>
<line x1="449.6" y1="406.4" x2="458.1" y2="390" stroke="#000" stroke-width="1.6"/>
<text transform="translate(460.2 403.2) scale(0.6913 1)" font-family="Liberation Serif" font-size="19" fill="#000" stroke="#000" stroke-width="0.7" vector-effect="non-scaling-stroke">(</text>
<text transform="translate(466.3 402.8) scale(1.1125 1)" font-family="Liberation Serif" font-size="16" fill="#000" stroke="#000" stroke-width="0.7" vector-effect="non-scaling-stroke">h</text>
<line x1="476.9" y1="396.7" x2="481.7" y2="396.7" stroke="#000" stroke-width="1.5"/>
<text transform="translate(482.5 399.3) scale(1.3514 1)" font-family="Liberation Sans" font-size="8" font-weight="bold" fill="#000" stroke="#000" stroke-width="0.5" vector-effect="non-scaling-stroke">2</text>
<text transform="translate(489.6 402.8) scale(0.8216 1)" font-family="Liberation Serif" font-size="16" fill="#000" stroke="#000" stroke-width="0.7" vector-effect="non-scaling-stroke">M</text>
<circle cx="505.6" cy="405" r="3.0" fill="none" stroke="#000" stroke-width="1.15"/><circle cx="505.6" cy="405" r="0.9" fill="#000"/>
<text transform="translate(510.7 403.2) scale(0.7227 1)" font-family="Liberation Serif" font-size="19" fill="#000" stroke="#000" stroke-width="0.7" vector-effect="non-scaling-stroke">)</text>
<path d="M517.4 389.4H521.1V406.7H517.4" fill="none" stroke="#000" stroke-width="1.6"/>
<text transform="translate(524.6 402.8) scale(1.1062 1)" font-family="Liberation Serif" font-size="16" fill="#000" stroke="#000" stroke-width="0.7" vector-effect="non-scaling-stroke">&lt;</text>
<text transform="translate(535.7 402.8) scale(0.8861 1)" font-family="Liberation Serif" font-size="15.8" fill="#000" stroke="#000" stroke-width="0.9" vector-effect="non-scaling-stroke">1</text>
<text transform="translate(544 402.8) scale(0.9997 1)" font-family="Liberation Sans" font-size="15.5" fill="#000" stroke="#000" stroke-width="0.6" vector-effect="non-scaling-stroke">0</text>
<text transform="translate(622.1 402.8) scale(0.8861 1)" font-family="Liberation Serif" font-size="15.8" fill="#000" stroke="#000" stroke-width="0.9" vector-effect="non-scaling-stroke">1</text>
<text transform="translate(630.4 402.8) scale(0.9997 1)" font-family="Liberation Sans" font-size="15.5" fill="#000" stroke="#000" stroke-width="0.6" vector-effect="non-scaling-stroke">0</text>
<text transform="translate(640.1 402.8) scale(1.1062 1)" font-family="Liberation Serif" font-size="16" fill="#000" stroke="#000" stroke-width="0.7" vector-effect="non-scaling-stroke">&lt;</text>
<text transform="translate(652.3 402.8) scale(0.7366 1)" font-family="Liberation Serif" font-size="16" fill="#000" stroke="#000" stroke-width="0.7" vector-effect="non-scaling-stroke">l</text>
<text transform="translate(656.2 402.8) scale(1.0375 1)" font-family="Liberation Serif" font-size="16" fill="#000" stroke="#000" stroke-width="0.7" vector-effect="non-scaling-stroke">o</text>
<text transform="translate(665.1 402.8) scale(1.1750 1)" font-family="Liberation Serif" font-size="16" fill="#000" stroke="#000" stroke-width="0.7" vector-effect="non-scaling-stroke">g</text>
<path d="M681.2 389.4H677.6V406.7H681.2" fill="none" stroke="#000" stroke-width="1.6"/>
<text transform="translate(682.3 402.8) scale(0.8216 1)" font-family="Liberation Serif" font-size="16" fill="#000" stroke="#000" stroke-width="0.7" vector-effect="non-scaling-stroke">M</text>
<text transform="translate(694.7 407.2) scale(1.1937 1)" font-family="Liberation Sans" font-size="8" font-weight="bold" fill="#000" stroke="#000" stroke-width="0.7" vector-effect="non-scaling-stroke">s</text>
<line x1="700.1" y1="406.4" x2="708.6" y2="390" stroke="#000" stroke-width="1.6"/>
<text transform="translate(710.7 403.2) scale(0.6913 1)" font-family="Liberation Serif" font-size="19" fill="#000" stroke="#000" stroke-width="0.7" vector-effect="non-scaling-stroke">(</text>
<text transform="translate(716.8 402.8) scale(1.1125 1)" font-family="Liberation Serif" font-size="16" fill="#000" stroke="#000" stroke-width="0.7" vector-effect="non-scaling-stroke">h</text>
<line x1="727.4" y1="396.7" x2="732.2" y2="396.7" stroke="#000" stroke-width="1.5"/>
<text transform="translate(733 399.3) scale(1.3514 1)" font-family="Liberation Sans" font-size="8" font-weight="bold" fill="#000" stroke="#000" stroke-width="0.5" vector-effect="non-scaling-stroke">2</text>
<text transform="translate(740.1 402.8) scale(0.8216 1)" font-family="Liberation Serif" font-size="16" fill="#000" stroke="#000" stroke-width="0.7" vector-effect="non-scaling-stroke">M</text>
<circle cx="756.1" cy="405" r="3.0" fill="none" stroke="#000" stroke-width="1.15"/><circle cx="756.1" cy="405" r="0.9" fill="#000"/>
<text transform="translate(761.2 403.2) scale(0.7227 1)" font-family="Liberation Serif" font-size="19" fill="#000" stroke="#000" stroke-width="0.7" vector-effect="non-scaling-stroke">)</text>
<path d="M767.9 389.4H771.6V406.7H767.9" fill="none" stroke="#000" stroke-width="1.6"/>
<text transform="translate(775.1 402.8) scale(1.1062 1)" font-family="Liberation Serif" font-size="16" fill="#000" stroke="#000" stroke-width="0.7" vector-effect="non-scaling-stroke">&lt;</text>
<text transform="translate(786.2 402.8) scale(0.8861 1)" font-family="Liberation Serif" font-size="15.8" fill="#000" stroke="#000" stroke-width="0.9" vector-effect="non-scaling-stroke">1</text>
<text transform="translate(794.5 402.8) scale(0.9997 1)" font-family="Liberation Sans" font-size="15.5" fill="#000" stroke="#000" stroke-width="0.6" vector-effect="non-scaling-stroke">0</text>
<rect x="804.7" y="400.8" width="1.9" height="2" fill="#000"/>
<text transform="translate(808.7 402.8) scale(1.0230 1)" font-family="Liberation Sans" font-size="15.5" fill="#000" stroke="#000" stroke-width="0.6" vector-effect="non-scaling-stroke">5</text>
<text transform="translate(111.8 620) scale(0.8861 1)" font-family="Liberation Serif" font-size="15.8" fill="#000" stroke="#000" stroke-width="0.9" vector-effect="non-scaling-stroke">1</text>
<text transform="translate(120.1 620) scale(0.9997 1)" font-family="Liberation Sans" font-size="15.5" fill="#000" stroke="#000" stroke-width="0.6" vector-effect="non-scaling-stroke">0</text>
<rect x="130.3" y="618" width="1.9" height="2" fill="#000"/>
<text transform="translate(134.3 620) scale(1.0230 1)" font-family="Liberation Sans" font-size="15.5" fill="#000" stroke="#000" stroke-width="0.6" vector-effect="non-scaling-stroke">5</text>
<text transform="translate(144.2 620) scale(1.1062 1)" font-family="Liberation Serif" font-size="16" fill="#000" stroke="#000" stroke-width="0.7" vector-effect="non-scaling-stroke">&lt;</text>
<text transform="translate(156.4 620) scale(0.7366 1)" font-family="Liberation Serif" font-size="16" fill="#000" stroke="#000" stroke-width="0.7" vector-effect="non-scaling-stroke">l</text>
<text transform="translate(160.3 620) scale(1.0375 1)" font-family="Liberation Serif" font-size="16" fill="#000" stroke="#000" stroke-width="0.7" vector-effect="non-scaling-stroke">o</text>
<text transform="translate(169.2 620) scale(1.1750 1)" font-family="Liberation Serif" font-size="16" fill="#000" stroke="#000" stroke-width="0.7" vector-effect="non-scaling-stroke">g</text>
<path d="M185.3 606.6H181.7V623.9H185.3" fill="none" stroke="#000" stroke-width="1.6"/>
<text transform="translate(186.4 620) scale(0.8216 1)" font-family="Liberation Serif" font-size="16" fill="#000" stroke="#000" stroke-width="0.7" vector-effect="non-scaling-stroke">M</text>
<text transform="translate(198.8 624.4) scale(1.1937 1)" font-family="Liberation Sans" font-size="8" font-weight="bold" fill="#000" stroke="#000" stroke-width="0.7" vector-effect="non-scaling-stroke">s</text>
<line x1="204.2" y1="623.6" x2="212.7" y2="607.2" stroke="#000" stroke-width="1.6"/>
<text transform="translate(214.8 620.4) scale(0.6913 1)" font-family="Liberation Serif" font-size="19" fill="#000" stroke="#000" stroke-width="0.7" vector-effect="non-scaling-stroke">(</text>
<text transform="translate(220.9 620) scale(1.1125 1)" font-family="Liberation Serif" font-size="16" fill="#000" stroke="#000" stroke-width="0.7" vector-effect="non-scaling-stroke">h</text>
<line x1="231.5" y1="613.9" x2="236.3" y2="613.9" stroke="#000" stroke-width="1.5"/>
<text transform="translate(237.1 616.5) scale(1.3514 1)" font-family="Liberation Sans" font-size="8" font-weight="bold" fill="#000" stroke="#000" stroke-width="0.5" vector-effect="non-scaling-stroke">2</text>
<text transform="translate(244.2 620) scale(0.8216 1)" font-family="Liberation Serif" font-size="16" fill="#000" stroke="#000" stroke-width="0.7" vector-effect="non-scaling-stroke">M</text>
<circle cx="260.2" cy="622.2" r="3.0" fill="none" stroke="#000" stroke-width="1.15"/><circle cx="260.2" cy="622.2" r="0.9" fill="#000"/>
<text transform="translate(265.3 620.4) scale(0.7227 1)" font-family="Liberation Serif" font-size="19" fill="#000" stroke="#000" stroke-width="0.7" vector-effect="non-scaling-stroke">)</text>
<path d="M272 606.6H275.7V623.9H272" fill="none" stroke="#000" stroke-width="1.6"/>
<text transform="translate(279.2 620) scale(1.1062 1)" font-family="Liberation Serif" font-size="16" fill="#000" stroke="#000" stroke-width="0.7" vector-effect="non-scaling-stroke">&lt;</text>
<text transform="translate(290.3 620) scale(0.8861 1)" font-family="Liberation Serif" font-size="15.8" fill="#000" stroke="#000" stroke-width="0.9" vector-effect="non-scaling-stroke">1</text>
<text transform="translate(299.9 620) scale(0.8861 1)" font-family="Liberation Serif" font-size="15.8" fill="#000" stroke="#000" stroke-width="0.9" vector-effect="non-scaling-stroke">1</text>
<text transform="translate(367.4 620) scale(0.8861 1)" font-family="Liberation Serif" font-size="15.8" fill="#000" stroke="#000" stroke-width="0.9" vector-effect="non-scaling-stroke">1</text>
<text transform="translate(377 620) scale(0.8861 1)" font-family="Liberation Serif" font-size="15.8" fill="#000" stroke="#000" stroke-width="0.9" vector-effect="non-scaling-stroke">1</text>
<text transform="translate(385.1 620) scale(1.1062 1)" font-family="Liberation Serif" font-size="16" fill="#000" stroke="#000" stroke-width="0.7" vector-effect="non-scaling-stroke">&lt;</text>
<text transform="translate(397.3 620) scale(0.7366 1)" font-family="Liberation Serif" font-size="16" fill="#000" stroke="#000" stroke-width="0.7" vector-effect="non-scaling-stroke">l</text>
<text transform="translate(401.2 620) scale(1.0375 1)" font-family="Liberation Serif" font-size="16" fill="#000" stroke="#000" stroke-width="0.7" vector-effect="non-scaling-stroke">o</text>
<text transform="translate(410.1 620) scale(1.1750 1)" font-family="Liberation Serif" font-size="16" fill="#000" stroke="#000" stroke-width="0.7" vector-effect="non-scaling-stroke">g</text>
<path d="M426.2 606.6H422.6V623.9H426.2" fill="none" stroke="#000" stroke-width="1.6"/>
<text transform="translate(427.3 620) scale(0.8216 1)" font-family="Liberation Serif" font-size="16" fill="#000" stroke="#000" stroke-width="0.7" vector-effect="non-scaling-stroke">M</text>
<text transform="translate(439.7 624.4) scale(1.1937 1)" font-family="Liberation Sans" font-size="8" font-weight="bold" fill="#000" stroke="#000" stroke-width="0.7" vector-effect="non-scaling-stroke">s</text>
<line x1="445.1" y1="623.6" x2="453.6" y2="607.2" stroke="#000" stroke-width="1.6"/>
<text transform="translate(455.7 620.4) scale(0.6913 1)" font-family="Liberation Serif" font-size="19" fill="#000" stroke="#000" stroke-width="0.7" vector-effect="non-scaling-stroke">(</text>
<text transform="translate(461.8 620) scale(1.1125 1)" font-family="Liberation Serif" font-size="16" fill="#000" stroke="#000" stroke-width="0.7" vector-effect="non-scaling-stroke">h</text>
<line x1="472.4" y1="613.9" x2="477.2" y2="613.9" stroke="#000" stroke-width="1.5"/>
<text transform="translate(478 616.5) scale(1.3514 1)" font-family="Liberation Sans" font-size="8" font-weight="bold" fill="#000" stroke="#000" stroke-width="0.5" vector-effect="non-scaling-stroke">2</text>
<text transform="translate(485.1 620) scale(0.8216 1)" font-family="Liberation Serif" font-size="16" fill="#000" stroke="#000" stroke-width="0.7" vector-effect="non-scaling-stroke">M</text>
<circle cx="501.1" cy="622.2" r="3.0" fill="none" stroke="#000" stroke-width="1.15"/><circle cx="501.1" cy="622.2" r="0.9" fill="#000"/>
<text transform="translate(506.2 620.4) scale(0.7227 1)" font-family="Liberation Serif" font-size="19" fill="#000" stroke="#000" stroke-width="0.7" vector-effect="non-scaling-stroke">)</text>
<path d="M512.9 606.6H516.6V623.9H512.9" fill="none" stroke="#000" stroke-width="1.6"/>
<text transform="translate(520.1 620) scale(1.1062 1)" font-family="Liberation Serif" font-size="16" fill="#000" stroke="#000" stroke-width="0.7" vector-effect="non-scaling-stroke">&lt;</text>
<text transform="translate(531.2 620) scale(0.8861 1)" font-family="Liberation Serif" font-size="15.8" fill="#000" stroke="#000" stroke-width="0.9" vector-effect="non-scaling-stroke">1</text>
<text transform="translate(540.8 620) scale(0.8861 1)" font-family="Liberation Serif" font-size="15.8" fill="#000" stroke="#000" stroke-width="0.9" vector-effect="non-scaling-stroke">1</text>
<rect x="549.1" y="618" width="1.9" height="2" fill="#000"/>
<text transform="translate(553.1 620) scale(1.0230 1)" font-family="Liberation Sans" font-size="15.5" fill="#000" stroke="#000" stroke-width="0.6" vector-effect="non-scaling-stroke">5</text>
<text transform="translate(621.3 708) scale(1.0215 1)" font-family="Liberation Serif" font-size="15.5" fill="#000" stroke="#000" stroke-width="0.55" vector-effect="non-scaling-stroke">Y</text>
<text transform="translate(633.6 708) scale(1.3048 1)" font-family="Liberation Serif" font-size="15.5" fill="#000" stroke="#000" stroke-width="0.55" vector-effect="non-scaling-stroke">a</text>
<text transform="translate(643.4 708) scale(1.4452 1)" font-family="Liberation Serif" font-size="15.5" fill="#000" stroke="#000" stroke-width="0.55" vector-effect="non-scaling-stroke">n</text>
<text transform="translate(655 708) scale(1.3161 1)" font-family="Liberation Serif" font-size="15.5" fill="#000" stroke="#000" stroke-width="0.55" vector-effect="non-scaling-stroke">g</text>
<text transform="translate(678.84 708) scale(0.7000 1)" font-family="Liberation Serif" font-size="15.5" fill="#000" stroke="#000" stroke-width="0.9" vector-effect="non-scaling-stroke">1</text>
<text transform="translate(684.94 708) scale(0.7000 1)" font-family="Liberation Serif" font-size="15.5" fill="#000" stroke="#000" stroke-width="0.9" vector-effect="non-scaling-stroke">1</text>
<path d="M666.9 703.1H677.1M672 698V708.2" stroke="#000" stroke-width="1.5" fill="none"/>
<text transform="translate(621.3 730) scale(1.0113 1)" font-family="Liberation Serif" font-size="15.5" fill="#1a6a12" stroke="#1a6a12" stroke-width="0.6" vector-effect="non-scaling-stroke">P</text>
<text transform="translate(630.9 734.6) scale(1.1318 1)" font-family="Liberation Sans" font-size="8.8" font-weight="bold" fill="#1a6a12" stroke="#1a6a12" stroke-width="0.25" vector-effect="non-scaling-stroke">sub,acc</text>
<text transform="translate(669.5 730) scale(1.0505 1)" font-family="Liberation Serif" font-size="15.5" fill="#1a6a12" stroke="#1a6a12" stroke-width="0.6" vector-effect="non-scaling-stroke">=</text>
<text transform="translate(680.9 730) scale(1.1160 1)" font-family="Liberation Serif" font-size="15.5" fill="#1a6a12" stroke="#1a6a12" stroke-width="0.6" vector-effect="non-scaling-stroke">P</text>
<text transform="translate(691.4 734.6) scale(1.0935 1)" font-family="Liberation Sans" font-size="8.8" font-weight="bold" fill="#1a6a12" stroke="#1a6a12" stroke-width="0.25" vector-effect="non-scaling-stroke">cen</text>
<text transform="translate(621.3 752) scale(1.0113 1)" font-family="Liberation Serif" font-size="15.5" fill="#ff0000" stroke="#ff0000" stroke-width="0.6" vector-effect="non-scaling-stroke">P</text>
<text transform="translate(630.9 756.6) scale(1.0993 1)" font-family="Liberation Sans" font-size="8.8" font-weight="bold" fill="#ff0000" stroke="#ff0000" stroke-width="0.25" vector-effect="non-scaling-stroke">sub,obs</text>
<text transform="translate(669.5 752) scale(1.0505 1)" font-family="Liberation Serif" font-size="15.5" fill="#ff0000" stroke="#ff0000" stroke-width="0.6" vector-effect="non-scaling-stroke">=</text>
<text transform="translate(680.9 752) scale(1.1160 1)" font-family="Liberation Serif" font-size="15.5" fill="#ff0000" stroke="#ff0000" stroke-width="0.6" vector-effect="non-scaling-stroke">P</text>
<text transform="translate(691.4 756.6) scale(1.0935 1)" font-family="Liberation Sans" font-size="8.8" font-weight="bold" fill="#ff0000" stroke="#ff0000" stroke-width="0.25" vector-effect="non-scaling-stroke">cen</text>
<text transform="translate(621.3 774) scale(0.8544 1)" font-family="Liberation Serif" font-size="15.5" fill="#0000ff" stroke="#0000ff" stroke-width="0.6" vector-effect="non-scaling-stroke">AMT</text>
<text transform="translate(659.5 774) scale(1.0695 1)" font-family="Liberation Serif" font-size="15.5" fill="#0000ff" stroke="#0000ff" stroke-width="0.6" vector-effect="non-scaling-stroke">P</text>
<text transform="translate(669.5 778.6) scale(1.1135 1)" font-family="Liberation Sans" font-size="8.8" font-weight="bold" fill="#0000ff" stroke="#0000ff" stroke-width="0.25" vector-effect="non-scaling-stroke">sub,acc</text>
<text transform="translate(621.3 796) scale(0.8544 1)" font-family="Liberation Serif" font-size="15.5" fill="#000" stroke="#000" stroke-width="0.6" vector-effect="non-scaling-stroke">AMT</text>
<text transform="translate(659.5 796) scale(1.0695 1)" font-family="Liberation Serif" font-size="15.5" fill="#000" stroke="#000" stroke-width="0.6" vector-effect="non-scaling-stroke">P</text>
<text transform="translate(669.5 800.6) scale(1.0815 1)" font-family="Liberation Sans" font-size="8.8" font-weight="bold" fill="#000" stroke="#000" stroke-width="0.25" vector-effect="non-scaling-stroke">sub,obs</text>
<circle cx="773.4" cy="707.7" r="4.65" fill="#00ffff" stroke="#000" stroke-width="0.95"/>
<path d="M735 729.7H808" stroke="#1a6a12" stroke-width="2" stroke-dasharray="2.7 4.4 12 4.3"/>
<path d="M735 751.7H811.2" stroke="#ff0000" stroke-width="2" stroke-dasharray="12.4 8.7"/>
<path d="M735 773.6H805" stroke="#0000ff" stroke-width="2.2" stroke-dasharray="30.4 8.7"/>
<path d="M735 795.7H812" stroke="#000" stroke-width="2"/>
</svg>
</body></html>
